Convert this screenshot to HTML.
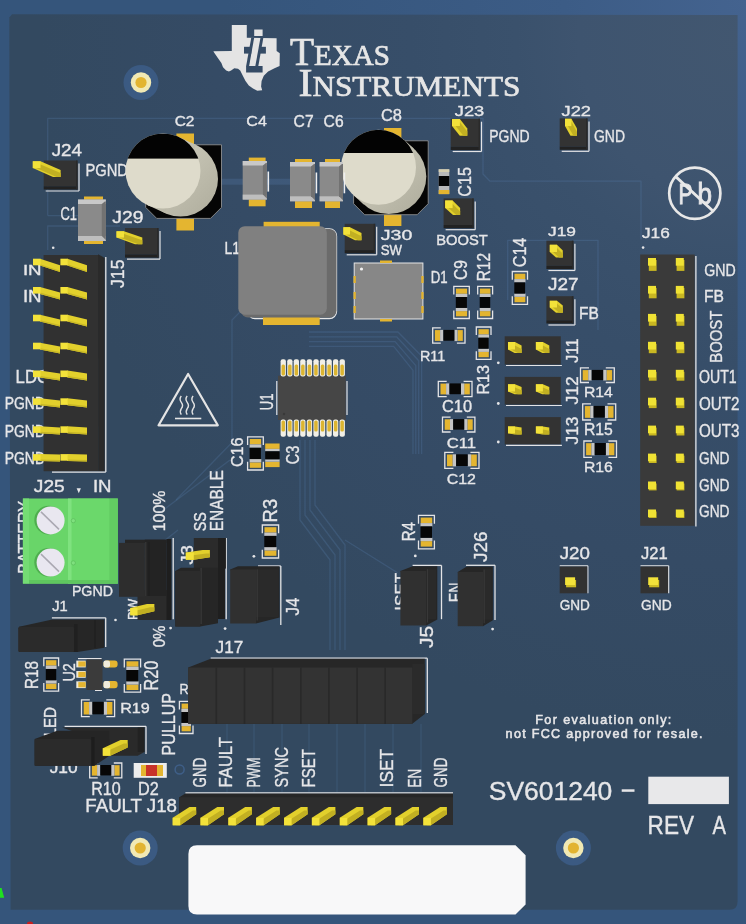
<!DOCTYPE html>
<html><head><meta charset="utf-8"><title>PCB</title>
<style>html,body{margin:0;padding:0;background:#35557b;width:746px;height:924px;overflow:hidden}svg{display:block}</style>
</head><body>
<svg width="746" height="924" viewBox="0 0 746 924">
<defs><radialGradient id="outer" gradientUnits="userSpaceOnUse" cx="746" cy="0" r="520"><stop offset="0" stop-color="#44638f"/><stop offset="0.35" stop-color="#3c5c86"/><stop offset="1" stop-color="#35557b"/></radialGradient><radialGradient id="brd" gradientUnits="userSpaceOnUse" cx="740" cy="40" r="700"><stop offset="0" stop-color="rgb(66,87,112)"/><stop offset="0.23" stop-color="rgb(62,84,111)"/><stop offset="0.32" stop-color="rgb(58,81,108)"/><stop offset="0.47" stop-color="rgb(55,78,105)"/><stop offset="0.75" stop-color="rgb(53,75,101)"/><stop offset="1" stop-color="rgb(51,73,96)"/></radialGradient><linearGradient id="capA" x1="0" y1="0" x2="1" y2="1"><stop offset="0" stop-color="#d4d2c2"/><stop offset="1" stop-color="#aeac9c"/></linearGradient><linearGradient id="capB" x1="0" y1="0" x2="1" y2="1"><stop offset="0" stop-color="#d4d2c2"/><stop offset="1" stop-color="#aeac9c"/></linearGradient></defs>
<rect x="0.0" y="0.0" width="746.0" height="924.0" fill="url(#outer)" />
<path d="M12,14.3 L737.6,15 L737.6,901.5 Q737.6,909.8 729.5,909.8 L10.6,909.8 L9.3,17.5 Z" fill="url(#brd)"/>
<polyline points="47.7,215.6 47.7,118.3 483.0,118.3 483.0,174.0 490.0,181.2 641.0,181.2 641.0,239.5" fill="none" stroke="rgba(110,160,225,0.16)" stroke-width="1.3" stroke-linejoin="round"/>
<polyline points="47.7,215.6 78.0,215.6" fill="none" stroke="rgba(110,160,225,0.16)" stroke-width="1.3" stroke-linejoin="round"/>
<polyline points="47.7,250.0 47.7,226.0 120.0,226.0" fill="none" stroke="rgba(110,160,225,0.16)" stroke-width="1.3" stroke-linejoin="round"/>
<polyline points="218.0,181.7 243.0,181.7" fill="none" stroke="rgba(110,160,225,0.16)" stroke-width="6" stroke-linejoin="round"/>
<polyline points="267.0,181.7 290.0,181.7" fill="none" stroke="rgba(110,160,225,0.16)" stroke-width="6" stroke-linejoin="round"/>
<polyline points="507.7,300.0 507.7,240.3 598.0,240.3 598.0,330.0" fill="none" stroke="rgba(110,160,225,0.16)" stroke-width="1.3" stroke-linejoin="round"/>
<polyline points="176.0,500.0 232.0,442.5 232.0,320.0 240.0,312.0 336.0,312.0" fill="none" stroke="rgba(110,160,225,0.16)" stroke-width="1.3" stroke-linejoin="round"/>
<polyline points="309.0,332.0 398.0,332.0 421.6,356.0 421.6,454.0" fill="none" stroke="rgba(110,160,225,0.16)" stroke-width="1.3" stroke-linejoin="round"/>
<polyline points="309.0,336.8 396.6,336.8 418.7,360.8 418.7,454.0" fill="none" stroke="rgba(110,160,225,0.16)" stroke-width="1.3" stroke-linejoin="round"/>
<polyline points="309.0,341.6 395.1,341.6 415.8,365.6 415.8,454.0" fill="none" stroke="rgba(110,160,225,0.16)" stroke-width="1.3" stroke-linejoin="round"/>
<polyline points="309.0,346.4 393.7,346.4 413.0,370.4 413.0,454.0" fill="none" stroke="rgba(110,160,225,0.16)" stroke-width="1.3" stroke-linejoin="round"/>
<polyline points="345.0,540.0 397.5,572.7" fill="none" stroke="rgba(110,160,225,0.16)" stroke-width="1.3" stroke-linejoin="round"/>
<polyline points="300.0,440.0 300.0,520.0 330.0,560.0 330.0,650.0" fill="none" stroke="rgba(110,160,225,0.16)" stroke-width="1.3" stroke-linejoin="round"/>
<polyline points="305.0,440.0 305.0,515.0 335.0,555.0 335.0,650.0" fill="none" stroke="rgba(110,160,225,0.16)" stroke-width="1.3" stroke-linejoin="round"/>
<polyline points="310.0,440.0 310.0,510.0 340.0,550.0 340.0,650.0" fill="none" stroke="rgba(110,160,225,0.16)" stroke-width="1.3" stroke-linejoin="round"/>
<polyline points="315.0,440.0 315.0,505.0 345.0,545.0 345.0,650.0" fill="none" stroke="rgba(110,160,225,0.16)" stroke-width="1.3" stroke-linejoin="round"/>
<polyline points="150.0,520.0 230.0,460.0" fill="none" stroke="rgba(110,160,225,0.16)" stroke-width="1.3" stroke-linejoin="round"/>
<polyline points="140.0,560.0 178.0,530.0" fill="none" stroke="rgba(110,160,225,0.16)" stroke-width="1.3" stroke-linejoin="round"/>
<polyline points="227.0,724.0 227.0,792.0" fill="none" stroke="rgba(110,160,225,0.16)" stroke-width="1.1" stroke-linejoin="round"/>
<polyline points="254.0,724.0 254.0,792.0" fill="none" stroke="rgba(110,160,225,0.16)" stroke-width="1.1" stroke-linejoin="round"/>
<polyline points="282.0,724.0 282.0,792.0" fill="none" stroke="rgba(110,160,225,0.16)" stroke-width="1.1" stroke-linejoin="round"/>
<polyline points="309.0,724.0 309.0,792.0" fill="none" stroke="rgba(110,160,225,0.16)" stroke-width="1.1" stroke-linejoin="round"/>
<polyline points="337.0,724.0 337.0,792.0" fill="none" stroke="rgba(110,160,225,0.16)" stroke-width="1.1" stroke-linejoin="round"/>
<polyline points="365.0,724.0 365.0,792.0" fill="none" stroke="rgba(110,160,225,0.16)" stroke-width="1.1" stroke-linejoin="round"/>
<polyline points="393.0,724.0 393.0,792.0" fill="none" stroke="rgba(110,160,225,0.16)" stroke-width="1.1" stroke-linejoin="round"/>
<polyline points="421.0,724.0 421.0,792.0" fill="none" stroke="rgba(110,160,225,0.16)" stroke-width="1.1" stroke-linejoin="round"/>
<circle cx="141.0" cy="82.5" r="17.5" fill="#3b5a82" />
<circle cx="141.0" cy="82.5" r="10.2" fill="#f1e9b4" />
<circle cx="141.0" cy="82.5" r="5.6" fill="#e2b431" />
<circle cx="140.2" cy="848.0" r="17.5" fill="#3b5a82" />
<circle cx="140.2" cy="848.0" r="10.2" fill="#f1e9b4" />
<circle cx="140.2" cy="848.0" r="5.6" fill="#e2b431" />
<circle cx="573.4" cy="848.0" r="17.5" fill="#3b5a82" />
<circle cx="573.4" cy="848.0" r="10.2" fill="#f1e9b4" />
<circle cx="573.4" cy="848.0" r="5.6" fill="#e2b431" />
<g style="will-change:transform">
<polygon points="231.8,25.1 246.8,25.1 246.8,37.7 276.6,38.2 276.6,51.1 279.8,53.2 279.6,66.1 274.5,68.3 268.1,71.5 263.8,75.8 261.6,81.1 261.1,86.5 262.2,90.2 257.3,90.8 253.0,88.6 248.8,85.4 245.5,81.1 242.3,74.7 240.2,70.4 238.0,68.8 234.3,68.3 231.1,70.4 228.9,71.5 226.2,70.4 223.0,67.2 221.4,62.9 218.2,58.6 213.9,52.2 213.4,51.3 231.8,51.1" fill="#e4e4e4"/>
<polygon points="251.3,37.6 254.2,37.6 249.1,66.2 246.1,66.2" fill="url(#brd)" />
<polygon points="260.5,37.6 263.4,37.6 258.3,66.2 255.3,66.2" fill="url(#brd)" />
<rect x="244.0" y="46.8" width="7.3" height="6.8" fill="url(#brd)" />
<rect x="259.6" y="46.8" width="6.3" height="6.8" fill="url(#brd)" />
<rect x="246.1" y="66.0" width="16.5" height="6.5" fill="url(#brd)" />
<rect x="254.2" y="29.5" width="8.4" height="6.5" fill="#e4e4e4" />
<text x="290" y="65.2" font-family="'Liberation Serif', serif" fill="#e6e6e6" stroke="#e6e6e6" stroke-width="0.7" font-size="40.5" textLength="100" lengthAdjust="spacingAndGlyphs">T<tspan font-size="30">EXAS</tspan></text>
<text x="298.4" y="96.4" font-family="'Liberation Serif', serif" fill="#e6e6e6" stroke="#e6e6e6" stroke-width="0.7" font-size="40.5" textLength="222" lengthAdjust="spacingAndGlyphs">I<tspan font-size="30">NSTRUMENTS</tspan></text>
<text x="51.7" y="155.8" font-size="15.70" font-family="'Liberation Sans', sans-serif" fill="#e6e6e8" font-weight="normal" textLength="30.3" lengthAdjust="spacingAndGlyphs" stroke="#e6e6e8" stroke-width="0.35">J24</text>
<text x="85.4" y="175.5" font-size="17.15" font-family="'Liberation Sans', sans-serif" fill="#e6e6e8" font-weight="normal" textLength="42.6" lengthAdjust="spacingAndGlyphs" stroke="#e6e6e8" stroke-width="0.35">PGND</text>
<text x="174.7" y="126.2" font-size="14.97" font-family="'Liberation Sans', sans-serif" fill="#e6e6e8" font-weight="normal" textLength="19.8" lengthAdjust="spacingAndGlyphs" stroke="#e6e6e8" stroke-width="0.35">C2</text>
<text x="246.3" y="126.2" font-size="14.97" font-family="'Liberation Sans', sans-serif" fill="#e6e6e8" font-weight="normal" textLength="20.6" lengthAdjust="spacingAndGlyphs" stroke="#e6e6e8" stroke-width="0.35">C4</text>
<text x="293.6" y="126.8" font-size="15.70" font-family="'Liberation Sans', sans-serif" fill="#e6e6e8" font-weight="normal" textLength="20.0" lengthAdjust="spacingAndGlyphs" stroke="#e6e6e8" stroke-width="0.35">C7</text>
<text x="323.6" y="126.8" font-size="15.70" font-family="'Liberation Sans', sans-serif" fill="#e6e6e8" font-weight="normal" textLength="20.0" lengthAdjust="spacingAndGlyphs" stroke="#e6e6e8" stroke-width="0.35">C6</text>
<text x="381.0" y="121.0" font-size="15.99" font-family="'Liberation Sans', sans-serif" fill="#e6e6e8" font-weight="normal" textLength="21.0" lengthAdjust="spacingAndGlyphs" stroke="#e6e6e8" stroke-width="0.35">C8</text>
<text x="60.5" y="219.5" font-size="17.44" font-family="'Liberation Sans', sans-serif" fill="#e6e6e8" font-weight="normal" textLength="16.5" lengthAdjust="spacingAndGlyphs" stroke="#e6e6e8" stroke-width="0.35">C1</text>
<text x="112.3" y="223.4" font-size="17.15" font-family="'Liberation Sans', sans-serif" fill="#e6e6e8" font-weight="normal" textLength="31.1" lengthAdjust="spacingAndGlyphs" stroke="#e6e6e8" stroke-width="0.35">J29</text>
<text x="224.4" y="254.0" font-size="16.86" font-family="'Liberation Sans', sans-serif" fill="#e6e6e8" font-weight="normal" textLength="15.6" lengthAdjust="spacingAndGlyphs" stroke="#e6e6e8" stroke-width="0.35">L1</text>
<text x="380.7" y="239.5" font-size="14.97" font-family="'Liberation Sans', sans-serif" fill="#e6e6e8" font-weight="normal" textLength="31.6" lengthAdjust="spacingAndGlyphs" stroke="#e6e6e8" stroke-width="0.35">J30</text>
<text x="380.7" y="254.8" font-size="14.53" font-family="'Liberation Sans', sans-serif" fill="#e6e6e8" font-weight="normal" textLength="21.3" lengthAdjust="spacingAndGlyphs" stroke="#e6e6e8" stroke-width="0.35">SW</text>
<text x="454.8" y="115.6" font-size="14.97" font-family="'Liberation Sans', sans-serif" fill="#e6e6e8" font-weight="normal" textLength="29.5" lengthAdjust="spacingAndGlyphs" stroke="#e6e6e8" stroke-width="0.35">J23</text>
<text x="489.3" y="141.6" font-size="17.15" font-family="'Liberation Sans', sans-serif" fill="#e6e6e8" font-weight="normal" textLength="40.4" lengthAdjust="spacingAndGlyphs" stroke="#e6e6e8" stroke-width="0.35">PGND</text>
<text x="561.5" y="115.6" font-size="14.97" font-family="'Liberation Sans', sans-serif" fill="#e6e6e8" font-weight="normal" textLength="29.5" lengthAdjust="spacingAndGlyphs" stroke="#e6e6e8" stroke-width="0.35">J22</text>
<text x="594.0" y="141.6" font-size="17.15" font-family="'Liberation Sans', sans-serif" fill="#e6e6e8" font-weight="normal" textLength="31.0" lengthAdjust="spacingAndGlyphs" stroke="#e6e6e8" stroke-width="0.35">GND</text>
<text transform="translate(470.7,196.7) rotate(-90)" x="0" y="0" font-size="18.02" font-family="'Liberation Sans', sans-serif" fill="#e6e6e8" font-weight="normal" textLength="29.7" lengthAdjust="spacingAndGlyphs" stroke="#e6e6e8" stroke-width="0.35">C15</text>
<text x="436.2" y="245.4" font-size="15.12" font-family="'Liberation Sans', sans-serif" fill="#e6e6e8" font-weight="normal" textLength="51.6" lengthAdjust="spacingAndGlyphs" stroke="#e6e6e8" stroke-width="0.35">BOOST</text>
<text x="548.0" y="235.7" font-size="13.52" font-family="'Liberation Sans', sans-serif" fill="#e6e6e8" font-weight="normal" textLength="28.0" lengthAdjust="spacingAndGlyphs" stroke="#e6e6e8" stroke-width="0.35">J19</text>
<text x="548.0" y="290.0" font-size="17.15" font-family="'Liberation Sans', sans-serif" fill="#e6e6e8" font-weight="normal" textLength="30.6" lengthAdjust="spacingAndGlyphs" stroke="#e6e6e8" stroke-width="0.35">J27</text>
<text x="579.0" y="319.3" font-size="16.42" font-family="'Liberation Sans', sans-serif" fill="#e6e6e8" font-weight="normal" textLength="19.8" lengthAdjust="spacingAndGlyphs" stroke="#e6e6e8" stroke-width="0.35">FB</text>
<text transform="translate(466.5,280.0) rotate(-90)" x="0" y="0" font-size="17.73" font-family="'Liberation Sans', sans-serif" fill="#e6e6e8" font-weight="normal" textLength="19.8" lengthAdjust="spacingAndGlyphs" stroke="#e6e6e8" stroke-width="0.35">C9</text>
<text transform="translate(489.8,281.3) rotate(-90)" x="0" y="0" font-size="17.59" font-family="'Liberation Sans', sans-serif" fill="#e6e6e8" font-weight="normal" textLength="28.3" lengthAdjust="spacingAndGlyphs" stroke="#e6e6e8" stroke-width="0.35">R12</text>
<text x="430.7" y="282.7" font-size="16.28" font-family="'Liberation Sans', sans-serif" fill="#e6e6e8" font-weight="normal" textLength="16.9" lengthAdjust="spacingAndGlyphs" stroke="#e6e6e8" stroke-width="0.35">D1</text>
<text transform="translate(526.4,267.2) rotate(-90)" x="0" y="0" font-size="17.59" font-family="'Liberation Sans', sans-serif" fill="#e6e6e8" font-weight="normal" textLength="29.5" lengthAdjust="spacingAndGlyphs" stroke="#e6e6e8" stroke-width="0.35">C14</text>
<text x="420.0" y="360.8" font-size="15.12" font-family="'Liberation Sans', sans-serif" fill="#e6e6e8" font-weight="normal" textLength="25.3" lengthAdjust="spacingAndGlyphs" stroke="#e6e6e8" stroke-width="0.35">R11</text>
<text transform="translate(489.0,394.6) rotate(-90)" x="0" y="0" font-size="16.42" font-family="'Liberation Sans', sans-serif" fill="#e6e6e8" font-weight="normal" textLength="29.6" lengthAdjust="spacingAndGlyphs" stroke="#e6e6e8" stroke-width="0.35">R13</text>
<text transform="translate(578.2,362.8) rotate(-90)" x="0" y="0" font-size="17.15" font-family="'Liberation Sans', sans-serif" fill="#e6e6e8" font-weight="normal" textLength="24.5" lengthAdjust="spacingAndGlyphs" stroke="#e6e6e8" stroke-width="0.35">J11</text>
<text transform="translate(578.2,404.5) rotate(-90)" x="0" y="0" font-size="17.15" font-family="'Liberation Sans', sans-serif" fill="#e6e6e8" font-weight="normal" textLength="28.2" lengthAdjust="spacingAndGlyphs" stroke="#e6e6e8" stroke-width="0.35">J12</text>
<text transform="translate(578.2,444.5) rotate(-90)" x="0" y="0" font-size="17.15" font-family="'Liberation Sans', sans-serif" fill="#e6e6e8" font-weight="normal" textLength="28.0" lengthAdjust="spacingAndGlyphs" stroke="#e6e6e8" stroke-width="0.35">J13</text>
<text x="442.0" y="412.3" font-size="16.42" font-family="'Liberation Sans', sans-serif" fill="#e6e6e8" font-weight="normal" textLength="30.0" lengthAdjust="spacingAndGlyphs" stroke="#e6e6e8" stroke-width="0.35">C10</text>
<text x="446.7" y="448.1" font-size="15.12" font-family="'Liberation Sans', sans-serif" fill="#e6e6e8" font-weight="normal" textLength="29.3" lengthAdjust="spacingAndGlyphs" stroke="#e6e6e8" stroke-width="0.35">C11</text>
<text x="446.7" y="484.0" font-size="15.26" font-family="'Liberation Sans', sans-serif" fill="#e6e6e8" font-weight="normal" textLength="29.3" lengthAdjust="spacingAndGlyphs" stroke="#e6e6e8" stroke-width="0.35">C12</text>
<text x="583.9" y="396.6" font-size="15.12" font-family="'Liberation Sans', sans-serif" fill="#e6e6e8" font-weight="normal" textLength="28.9" lengthAdjust="spacingAndGlyphs" stroke="#e6e6e8" stroke-width="0.35">R14</text>
<text x="583.9" y="435.4" font-size="16.28" font-family="'Liberation Sans', sans-serif" fill="#e6e6e8" font-weight="normal" textLength="28.9" lengthAdjust="spacingAndGlyphs" stroke="#e6e6e8" stroke-width="0.35">R15</text>
<text x="583.9" y="471.5" font-size="15.55" font-family="'Liberation Sans', sans-serif" fill="#e6e6e8" font-weight="normal" textLength="28.9" lengthAdjust="spacingAndGlyphs" stroke="#e6e6e8" stroke-width="0.35">R16</text>
<text x="642.0" y="238.2" font-size="15.26" font-family="'Liberation Sans', sans-serif" fill="#e6e6e8" font-weight="normal" textLength="27.8" lengthAdjust="spacingAndGlyphs" stroke="#e6e6e8" stroke-width="0.35">J16</text>
<circle cx="643.1" cy="247.6" r="1.3" fill="#e4e4e6" />
<text x="704.2" y="275.8" font-size="16.42" font-family="'Liberation Sans', sans-serif" fill="#e6e6e8" font-weight="normal" textLength="31.5" lengthAdjust="spacingAndGlyphs" stroke="#e6e6e8" stroke-width="0.35">GND</text>
<text x="704.0" y="302.2" font-size="16.57" font-family="'Liberation Sans', sans-serif" fill="#e6e6e8" font-weight="normal" textLength="20.0" lengthAdjust="spacingAndGlyphs" stroke="#e6e6e8" stroke-width="0.35">FB</text>
<text transform="translate(721.5,362.7) rotate(-90)" x="0" y="0" font-size="16.28" font-family="'Liberation Sans', sans-serif" fill="#e6e6e8" font-weight="normal" textLength="52.1" lengthAdjust="spacingAndGlyphs" stroke="#e6e6e8" stroke-width="0.35">BOOST</text>
<text x="699.0" y="383.3" font-size="17.59" font-family="'Liberation Sans', sans-serif" fill="#e6e6e8" font-weight="normal" textLength="37.7" lengthAdjust="spacingAndGlyphs" stroke="#e6e6e8" stroke-width="0.35">OUT1</text>
<text x="699.0" y="410.0" font-size="17.59" font-family="'Liberation Sans', sans-serif" fill="#e6e6e8" font-weight="normal" textLength="40.5" lengthAdjust="spacingAndGlyphs" stroke="#e6e6e8" stroke-width="0.35">OUT2</text>
<text x="699.0" y="437.3" font-size="17.88" font-family="'Liberation Sans', sans-serif" fill="#e6e6e8" font-weight="normal" textLength="40.5" lengthAdjust="spacingAndGlyphs" stroke="#e6e6e8" stroke-width="0.35">OUT3</text>
<text x="699.0" y="463.6" font-size="16.28" font-family="'Liberation Sans', sans-serif" fill="#e6e6e8" font-weight="normal" textLength="30.5" lengthAdjust="spacingAndGlyphs" stroke="#e6e6e8" stroke-width="0.35">GND</text>
<text x="699.0" y="491.0" font-size="16.86" font-family="'Liberation Sans', sans-serif" fill="#e6e6e8" font-weight="normal" textLength="30.5" lengthAdjust="spacingAndGlyphs" stroke="#e6e6e8" stroke-width="0.35">GND</text>
<text x="699.0" y="517.3" font-size="16.42" font-family="'Liberation Sans', sans-serif" fill="#e6e6e8" font-weight="normal" textLength="30.5" lengthAdjust="spacingAndGlyphs" stroke="#e6e6e8" stroke-width="0.35">GND</text>
<text x="22.9" y="275.0" font-size="14.97" font-family="'Liberation Sans', sans-serif" fill="#e6e6e8" font-weight="normal" textLength="18.7" lengthAdjust="spacingAndGlyphs" stroke="#e6e6e8" stroke-width="0.35">IN</text>
<text x="22.9" y="301.8" font-size="16.28" font-family="'Liberation Sans', sans-serif" fill="#e6e6e8" font-weight="normal" textLength="18.7" lengthAdjust="spacingAndGlyphs" stroke="#e6e6e8" stroke-width="0.35">IN</text>
<text x="15.6" y="383.4" font-size="17.73" font-family="'Liberation Sans', sans-serif" fill="#e6e6e8" font-weight="normal" textLength="34.4" lengthAdjust="spacingAndGlyphs" stroke="#e6e6e8" stroke-width="0.35">LDO</text>
<text x="4.7" y="409.4" font-size="15.99" font-family="'Liberation Sans', sans-serif" fill="#e6e6e8" font-weight="normal" textLength="40.3" lengthAdjust="spacingAndGlyphs" stroke="#e6e6e8" stroke-width="0.35">PGND</text>
<text x="4.7" y="436.9" font-size="16.28" font-family="'Liberation Sans', sans-serif" fill="#e6e6e8" font-weight="normal" textLength="40.3" lengthAdjust="spacingAndGlyphs" stroke="#e6e6e8" stroke-width="0.35">PGND</text>
<text x="4.7" y="463.9" font-size="15.84" font-family="'Liberation Sans', sans-serif" fill="#e6e6e8" font-weight="normal" textLength="40.3" lengthAdjust="spacingAndGlyphs" stroke="#e6e6e8" stroke-width="0.35">PGND</text>
<text transform="translate(124.2,288.0) rotate(-90)" x="0" y="0" font-size="18.17" font-family="'Liberation Sans', sans-serif" fill="#e6e6e8" font-weight="normal" textLength="28.5" lengthAdjust="spacingAndGlyphs" stroke="#e6e6e8" stroke-width="0.35">J15</text>
<circle cx="53.2" cy="247.8" r="1.3" fill="#e4e4e6" />
<text x="33.8" y="491.7" font-size="15.70" font-family="'Liberation Sans', sans-serif" fill="#e6e6e8" font-weight="normal" textLength="30.9" lengthAdjust="spacingAndGlyphs" stroke="#e6e6e8" stroke-width="0.35">J25</text>
<polygon points="76.6,488.3 80.9,488.3 78.8,493.2" fill="#e6e6e8" />
<text x="92.9" y="491.7" font-size="15.70" font-family="'Liberation Sans', sans-serif" fill="#e6e6e8" font-weight="normal" textLength="18.6" lengthAdjust="spacingAndGlyphs" stroke="#e6e6e8" stroke-width="0.35">IN</text>
<text transform="translate(30.5,573.8) rotate(-90)" x="0" y="0" font-size="18.17" font-family="'Liberation Sans', sans-serif" fill="#e6e6e8" font-weight="normal" textLength="72.8" lengthAdjust="spacingAndGlyphs" stroke="#e6e6e8" stroke-width="0.35">BATTERY</text>
<text x="71.9" y="596.0" font-size="15.55" font-family="'Liberation Sans', sans-serif" fill="#e6e6e8" font-weight="normal" textLength="41.0" lengthAdjust="spacingAndGlyphs" stroke="#e6e6e8" stroke-width="0.35">PGND</text>
<text x="52.2" y="611.2" font-size="14.39" font-family="'Liberation Sans', sans-serif" fill="#e6e6e8" font-weight="normal" textLength="15.5" lengthAdjust="spacingAndGlyphs" stroke="#e6e6e8" stroke-width="0.35">J1</text>
<text transform="translate(164.8,531.3) rotate(-90)" x="0" y="0" font-size="16.72" font-family="'Liberation Sans', sans-serif" fill="#e6e6e8" font-weight="normal" textLength="40.7" lengthAdjust="spacingAndGlyphs" stroke="#e6e6e8" stroke-width="0.35">100%</text>
<text transform="translate(164.8,647.2) rotate(-90)" x="0" y="0" font-size="16.72" font-family="'Liberation Sans', sans-serif" fill="#e6e6e8" font-weight="normal" textLength="21.6" lengthAdjust="spacingAndGlyphs" stroke="#e6e6e8" stroke-width="0.35">0%</text>
<text transform="translate(138.0,620.0) rotate(-90)" x="0" y="0" font-size="15.55" font-family="'Liberation Sans', sans-serif" fill="#e6e6e8" font-weight="normal" textLength="21.2" lengthAdjust="spacingAndGlyphs" stroke="#e6e6e8" stroke-width="0.35">PW</text>
<text transform="translate(192.8,564.4) rotate(-90)" x="0" y="0" font-size="15.70" font-family="'Liberation Sans', sans-serif" fill="#e6e6e8" font-weight="normal" textLength="19.1" lengthAdjust="spacingAndGlyphs" stroke="#e6e6e8" stroke-width="0.35">J3</text>
<text transform="translate(205.5,531.3) rotate(-90)" x="0" y="0" font-size="16.72" font-family="'Liberation Sans', sans-serif" fill="#e6e6e8" font-weight="normal" textLength="19.1" lengthAdjust="spacingAndGlyphs" stroke="#e6e6e8" stroke-width="0.35">SS</text>
<text transform="translate(223.3,531.3) rotate(-90)" x="0" y="0" font-size="18.46" font-family="'Liberation Sans', sans-serif" fill="#e6e6e8" font-weight="normal" textLength="61.1" lengthAdjust="spacingAndGlyphs" stroke="#e6e6e8" stroke-width="0.35">ENABLE</text>
<circle cx="170.6" cy="628.1" r="1.4" fill="#e4e4e6" />
<circle cx="225.1" cy="628.6" r="1.4" fill="#e4e4e6" />
<circle cx="115.5" cy="620.0" r="1.3" fill="#e4e4e6" />
<text transform="translate(298.5,615.4) rotate(-90)" x="0" y="0" font-size="18.46" font-family="'Liberation Sans', sans-serif" fill="#e6e6e8" font-weight="normal" textLength="17.9" lengthAdjust="spacingAndGlyphs" stroke="#e6e6e8" stroke-width="0.35">J4</text>
<text transform="translate(276.8,522.4) rotate(-90)" x="0" y="0" font-size="20.35" font-family="'Liberation Sans', sans-serif" fill="#e6e6e8" font-weight="normal" textLength="23.6" lengthAdjust="spacingAndGlyphs" stroke="#e6e6e8" stroke-width="0.35">R3</text>
<circle cx="253.9" cy="556.3" r="1.4" fill="#e4e4e6" />
<text transform="translate(273.3,410.2) rotate(-90)" x="0" y="0" font-size="17.88" font-family="'Liberation Sans', sans-serif" fill="#e6e6e8" font-weight="normal" textLength="16.8" lengthAdjust="spacingAndGlyphs" stroke="#e6e6e8" stroke-width="0.35">U1</text>
<text transform="translate(242.6,467.1) rotate(-90)" x="0" y="0" font-size="17.15" font-family="'Liberation Sans', sans-serif" fill="#e6e6e8" font-weight="normal" textLength="29.5" lengthAdjust="spacingAndGlyphs" stroke="#e6e6e8" stroke-width="0.35">C16</text>
<text transform="translate(299.2,464.2) rotate(-90)" x="0" y="0" font-size="17.88" font-family="'Liberation Sans', sans-serif" fill="#e6e6e8" font-weight="normal" textLength="18.6" lengthAdjust="spacingAndGlyphs" stroke="#e6e6e8" stroke-width="0.35">C3</text>
<text transform="translate(414.7,541.3) rotate(-90)" x="0" y="0" font-size="18.31" font-family="'Liberation Sans', sans-serif" fill="#e6e6e8" font-weight="normal" textLength="19.2" lengthAdjust="spacingAndGlyphs" stroke="#e6e6e8" stroke-width="0.35">R4</text>
<circle cx="415.3" cy="555.9" r="1.4" fill="#e4e4e6" />
<text transform="translate(407.0,610.7) rotate(-90)" x="0" y="0" font-size="16.86" font-family="'Liberation Sans', sans-serif" fill="#e6e6e8" font-weight="normal" textLength="37.7" lengthAdjust="spacingAndGlyphs" stroke="#e6e6e8" stroke-width="0.35">ISET</text>
<text transform="translate(433.0,648.0) rotate(-90)" x="0" y="0" font-size="18.46" font-family="'Liberation Sans', sans-serif" fill="#e6e6e8" font-weight="normal" textLength="22.3" lengthAdjust="spacingAndGlyphs" stroke="#e6e6e8" stroke-width="0.35">J5</text>
<text transform="translate(487.0,562.0) rotate(-90)" x="0" y="0" font-size="19.19" font-family="'Liberation Sans', sans-serif" fill="#e6e6e8" font-weight="normal" textLength="30.5" lengthAdjust="spacingAndGlyphs" stroke="#e6e6e8" stroke-width="0.35">J26</text>
<text transform="translate(462.0,602.3) rotate(-90)" x="0" y="0" font-size="17.73" font-family="'Liberation Sans', sans-serif" fill="#e6e6e8" font-weight="normal" textLength="19.7" lengthAdjust="spacingAndGlyphs" stroke="#e6e6e8" stroke-width="0.35">EN</text>
<circle cx="492.6" cy="629.1" r="1.4" fill="#e4e4e6" />
<circle cx="498.3" cy="362.8" r="1.4" fill="#e4e4e6" />
<circle cx="498.3" cy="403.5" r="1.4" fill="#e4e4e6" />
<circle cx="498.3" cy="442.0" r="1.4" fill="#e4e4e6" />
<text x="559.7" y="559.2" font-size="16.72" font-family="'Liberation Sans', sans-serif" fill="#e6e6e8" font-weight="normal" textLength="30.2" lengthAdjust="spacingAndGlyphs" stroke="#e6e6e8" stroke-width="0.35">J20</text>
<text x="559.7" y="610.0" font-size="15.41" font-family="'Liberation Sans', sans-serif" fill="#e6e6e8" font-weight="normal" textLength="30.2" lengthAdjust="spacingAndGlyphs" stroke="#e6e6e8" stroke-width="0.35">GND</text>
<text x="641.0" y="559.2" font-size="16.72" font-family="'Liberation Sans', sans-serif" fill="#e6e6e8" font-weight="normal" textLength="26.7" lengthAdjust="spacingAndGlyphs" stroke="#e6e6e8" stroke-width="0.35">J21</text>
<text x="641.0" y="610.0" font-size="15.41" font-family="'Liberation Sans', sans-serif" fill="#e6e6e8" font-weight="normal" textLength="30.7" lengthAdjust="spacingAndGlyphs" stroke="#e6e6e8" stroke-width="0.35">GND</text>
<text transform="translate(38.2,689.1) rotate(-90)" x="0" y="0" font-size="18.46" font-family="'Liberation Sans', sans-serif" fill="#e6e6e8" font-weight="normal" textLength="28.0" lengthAdjust="spacingAndGlyphs" stroke="#e6e6e8" stroke-width="0.35">R18</text>
<text transform="translate(75.1,681.5) rotate(-90)" x="0" y="0" font-size="17.30" font-family="'Liberation Sans', sans-serif" fill="#e6e6e8" font-weight="normal" textLength="18.3" lengthAdjust="spacingAndGlyphs" stroke="#e6e6e8" stroke-width="0.35">U2</text>
<text transform="translate(157.9,690.4) rotate(-90)" x="0" y="0" font-size="20.35" font-family="'Liberation Sans', sans-serif" fill="#e6e6e8" font-weight="normal" textLength="29.8" lengthAdjust="spacingAndGlyphs" stroke="#e6e6e8" stroke-width="0.35">R20</text>
<text x="120.2" y="713.3" font-size="14.68" font-family="'Liberation Sans', sans-serif" fill="#e6e6e8" font-weight="normal" textLength="29.6" lengthAdjust="spacingAndGlyphs" stroke="#e6e6e8" stroke-width="0.35">R19</text>
<text transform="translate(55.5,736.5) rotate(-90)" x="0" y="0" font-size="15.84" font-family="'Liberation Sans', sans-serif" fill="#e6e6e8" font-weight="normal" textLength="29.5" lengthAdjust="spacingAndGlyphs" stroke="#e6e6e8" stroke-width="0.35">LED</text>
<text transform="translate(174.5,755.4) rotate(-90)" x="0" y="0" font-size="18.60" font-family="'Liberation Sans', sans-serif" fill="#e6e6e8" font-weight="normal" textLength="62.4" lengthAdjust="spacingAndGlyphs" stroke="#e6e6e8" stroke-width="0.35">PULLUP</text>
<text x="179.4" y="693.6" font-size="15.26" font-family="'Liberation Sans', sans-serif" fill="#e6e6e8" font-weight="normal" textLength="9.1" lengthAdjust="spacingAndGlyphs" stroke="#e6e6e8" stroke-width="0.35">R</text>
<text x="49.7" y="772.5" font-size="15.99" font-family="'Liberation Sans', sans-serif" fill="#e6e6e8" font-weight="normal" textLength="28.0" lengthAdjust="spacingAndGlyphs" stroke="#e6e6e8" stroke-width="0.35">J10</text>
<text x="91.2" y="795.0" font-size="17.59" font-family="'Liberation Sans', sans-serif" fill="#e6e6e8" font-weight="normal" textLength="29.4" lengthAdjust="spacingAndGlyphs" stroke="#e6e6e8" stroke-width="0.35">R10</text>
<text x="138.0" y="795.0" font-size="17.59" font-family="'Liberation Sans', sans-serif" fill="#e6e6e8" font-weight="normal" textLength="20.7" lengthAdjust="spacingAndGlyphs" stroke="#e6e6e8" stroke-width="0.35">D2</text>
<text x="85.3" y="812.4" font-size="17.59" font-family="'Liberation Sans', sans-serif" fill="#e6e6e8" font-weight="normal" textLength="91.7" lengthAdjust="spacingAndGlyphs" stroke="#e6e6e8" stroke-width="0.35">FAULT J18</text>
<text x="215.6" y="652.5" font-size="16.28" font-family="'Liberation Sans', sans-serif" fill="#e6e6e8" font-weight="normal" textLength="27.7" lengthAdjust="spacingAndGlyphs" stroke="#e6e6e8" stroke-width="0.35">J17</text>
<text transform="translate(205.8,787.4) rotate(-90)" x="0" y="0" font-size="18.17" font-family="'Liberation Sans', sans-serif" fill="#e6e6e8" font-weight="normal" textLength="29.9" lengthAdjust="spacingAndGlyphs" stroke="#e6e6e8" stroke-width="0.35">GND</text>
<text transform="translate(232.3,787.4) rotate(-90)" x="0" y="0" font-size="18.17" font-family="'Liberation Sans', sans-serif" fill="#e6e6e8" font-weight="normal" textLength="50.4" lengthAdjust="spacingAndGlyphs" stroke="#e6e6e8" stroke-width="0.35">FAULT</text>
<text transform="translate(259.5,787.4) rotate(-90)" x="0" y="0" font-size="18.17" font-family="'Liberation Sans', sans-serif" fill="#e6e6e8" font-weight="normal" textLength="29.8" lengthAdjust="spacingAndGlyphs" stroke="#e6e6e8" stroke-width="0.35">PWM</text>
<text transform="translate(287.5,787.4) rotate(-90)" x="0" y="0" font-size="18.17" font-family="'Liberation Sans', sans-serif" fill="#e6e6e8" font-weight="normal" textLength="40.4" lengthAdjust="spacingAndGlyphs" stroke="#e6e6e8" stroke-width="0.35">SYNC</text>
<text transform="translate(314.7,787.4) rotate(-90)" x="0" y="0" font-size="18.17" font-family="'Liberation Sans', sans-serif" fill="#e6e6e8" font-weight="normal" textLength="38.4" lengthAdjust="spacingAndGlyphs" stroke="#e6e6e8" stroke-width="0.35">FSET</text>
<text transform="translate(392.5,787.4) rotate(-90)" x="0" y="0" font-size="18.17" font-family="'Liberation Sans', sans-serif" fill="#e6e6e8" font-weight="normal" textLength="38.4" lengthAdjust="spacingAndGlyphs" stroke="#e6e6e8" stroke-width="0.35">ISET</text>
<text transform="translate(420.5,787.4) rotate(-90)" x="0" y="0" font-size="18.17" font-family="'Liberation Sans', sans-serif" fill="#e6e6e8" font-weight="normal" textLength="18.5" lengthAdjust="spacingAndGlyphs" stroke="#e6e6e8" stroke-width="0.35">EN</text>
<text transform="translate(446.9,787.4) rotate(-90)" x="0" y="0" font-size="18.17" font-family="'Liberation Sans', sans-serif" fill="#e6e6e8" font-weight="normal" textLength="29.9" lengthAdjust="spacingAndGlyphs" stroke="#e6e6e8" stroke-width="0.35">GND</text>
<text x="535.3" y="724.3" font-size="12.6" font-family="'Liberation Sans', sans-serif" fill="#e6e6e8" stroke="#e6e6e8" stroke-width="0.55" textLength="136" lengthAdjust="spacing">For evaluation only:</text>
<text x="505.6" y="738.4" font-size="12.6" font-family="'Liberation Sans', sans-serif" fill="#e6e6e8" stroke="#e6e6e8" stroke-width="0.55" textLength="197" lengthAdjust="spacing">not FCC approved for resale.</text>
<text x="488.8" y="800.3" font-size="25.87" font-family="'Liberation Sans', sans-serif" fill="#e6e6e8" font-weight="normal" textLength="123.5" lengthAdjust="spacingAndGlyphs" stroke="#e6e6e8" stroke-width="0.35">SV601240</text>
<rect x="621.7" y="789.3" width="12.8" height="2.5" fill="#e6e6e8" />
<rect x="648.3" y="776.7" width="80.6" height="27.4" fill="#e8e8ea" />
<text x="647.6" y="833.7" font-size="25.87" font-family="'Liberation Sans', sans-serif" fill="#e6e6e8" font-weight="normal" textLength="46.4" lengthAdjust="spacingAndGlyphs" stroke="#e6e6e8" stroke-width="0.35">REV</text>
<text x="712.5" y="833.7" font-size="25.87" font-family="'Liberation Sans', sans-serif" fill="#e6e6e8" font-weight="normal" textLength="13.5" lengthAdjust="spacingAndGlyphs" stroke="#e6e6e8" stroke-width="0.35">A</text>
<circle cx="694.8" cy="193.3" r="25.6" fill="none" stroke="#e8e8e8" stroke-width="2.7"/>
<text x="678.6" y="204" font-size="28.6" font-family="'Liberation Sans', sans-serif" fill="#e6e6e8" stroke="#e6e6e8" stroke-width="0.9" textLength="14" lengthAdjust="spacingAndGlyphs">P</text>
<text x="697.6" y="204" font-size="28.6" font-family="'Liberation Sans', sans-serif" fill="#e6e6e8" stroke="#e6e6e8" stroke-width="0.9" textLength="14.5" lengthAdjust="spacingAndGlyphs">b</text>
<line x1="676.0" y1="176.9" x2="712.7" y2="210.7" stroke="#e8e8e8" stroke-width="2.8" />
<polygon points="188.1,374.0 158.6,425.3 217.8,425.3" fill="none" stroke="#e4e4e4" stroke-width="2.2" stroke-linejoin="round"/>
<path d="M181.3,396 q-2.5,3 0,6.3 q2.5,3.2 0,6.3 q-2,3 0,6" fill="none" stroke="#e4e4e4" stroke-width="1.4"/>
<path d="M187.2,396 q-2.5,3 0,6.3 q2.5,3.2 0,6.3 q-2,3 0,6" fill="none" stroke="#e4e4e4" stroke-width="1.4"/>
<path d="M193.1,396 q-2.5,3 0,6.3 q2.5,3.2 0,6.3 q-2,3 0,6" fill="none" stroke="#e4e4e4" stroke-width="1.4"/>
<line x1="175.0" y1="418.5" x2="201.3" y2="418.5" stroke="#e4e4e4" stroke-width="1.6" />
<path d="M197,845.3 L515.5,845.3 L525.6,855.3 L525.6,904.6 L515.5,914.6 L197,914.6 Q188.4,914.6 188.4,906 L188.4,854 Q188.4,845.3 197,845.3 Z" fill="#f8f8f9"/>
</g>
<rect x="176.4" y="133.5" width="17.6" height="12.5" fill="#e4b530" />
<rect x="176.4" y="217.0" width="17.6" height="13.5" fill="#e4b530" />
<polygon points="145.7,144.8 221.5,144.8 221.5,207.4 210.5,218.4 156.7,218.4 145.7,207.4" fill="#050505" stroke="#9a9a9a" stroke-width="0.8"/>
<g fill="url(#capA)"><circle cx="180.5" cy="179.0" r="37.5"/><polygon points="147.4,205.1 164.9,213.1 196.1,144.9 178.6,136.9"/></g>
<clipPath id="cpcapA"><circle cx="163.0" cy="171.0" r="37.5"/></clipPath>
<circle cx="163.0" cy="171.0" r="37.5" fill="#dedbcb" />
<rect x="125.5" y="133.5" width="75.0" height="25.1" fill="#030303" clip-path="url(#cpcapA)"/>
<rect x="384.0" y="128.0" width="17.4" height="14.0" fill="#e4b530" />
<rect x="384.0" y="213.0" width="17.4" height="13.0" fill="#e4b530" />
<polygon points="353.6,140.8 428.2,140.8 428.2,203.7 417.2,214.7 364.6,214.7 353.6,203.7" fill="#050505" stroke="#9a9a9a" stroke-width="0.8"/>
<g fill="url(#capB)"><circle cx="388.8" cy="176.5" r="37.5"/><polygon points="353.5,195.3 363.8,204.5 413.8,148.5 403.5,139.3"/></g>
<clipPath id="cpcapB"><circle cx="378.5" cy="167.3" r="37.5"/></clipPath>
<circle cx="378.5" cy="167.3" r="37.5" fill="#dedbcb" />
<rect x="341.0" y="129.8" width="75.0" height="23.2" fill="#030303" clip-path="url(#cpcapB)"/>
<rect x="248.8" y="157.6" width="16.8" height="6.4" fill="#e4b530" />
<rect x="248.8" y="196.6" width="16.8" height="9.7" fill="#e4b530" />
<rect x="267.5" y="171.5" width="1.6" height="20.1" fill="#eeeeee" />
<rect x="242.7" y="161.0" width="24.2" height="38.6" fill="#8a8a8a" />
<rect x="242.7" y="161.0" width="24.2" height="4.5" fill="#c8c8c8" />
<rect x="242.7" y="194.6" width="24.2" height="5.0" fill="#bebebe" />
<polygon points="262.9,165.5 265.9,163.0 266.9,163.0 266.9,198.6 262.9,194.6" fill="#727272" />
<rect x="295.0" y="159.0" width="17.0" height="6.0" fill="#e4b530" />
<rect x="295.0" y="198.3" width="17.0" height="9.7" fill="#e4b530" />
<rect x="315.6" y="172.5" width="1.6" height="20.8" fill="#eeeeee" />
<rect x="290.0" y="162.0" width="25.0" height="39.3" fill="#8a8a8a" />
<rect x="290.0" y="162.0" width="25.0" height="4.5" fill="#c8c8c8" />
<rect x="290.0" y="196.3" width="25.0" height="5.0" fill="#bebebe" />
<polygon points="311.0,166.5 314.0,164.0 315.0,164.0 315.0,200.3 311.0,196.3" fill="#727272" />
<rect x="325.0" y="159.0" width="15.0" height="6.0" fill="#e4b530" />
<rect x="325.0" y="198.3" width="15.0" height="9.7" fill="#e4b530" />
<rect x="343.6" y="172.5" width="1.6" height="20.8" fill="#eeeeee" />
<rect x="319.6" y="162.0" width="23.4" height="39.3" fill="#8a8a8a" />
<rect x="319.6" y="162.0" width="23.4" height="4.5" fill="#c8c8c8" />
<rect x="319.6" y="196.3" width="23.4" height="5.0" fill="#bebebe" />
<polygon points="339.0,166.5 342.0,164.0 343.0,164.0 343.0,200.3 339.0,196.3" fill="#727272" />
<rect x="84.0" y="196.5" width="19.0" height="6.0" fill="#e4b530" />
<rect x="84.0" y="238.0" width="19.0" height="6.0" fill="#e4b530" />
<rect x="78.0" y="199.5" width="27.8" height="41.5" fill="#8a8a8a" />
<rect x="78.0" y="199.5" width="27.8" height="4.5" fill="#c8c8c8" />
<rect x="78.0" y="236.0" width="27.8" height="5.0" fill="#bebebe" />
<polygon points="101.8,204.0 104.8,201.5 105.8,201.5 105.8,240.0 101.8,236.0" fill="#727272" />
<rect x="248" y="229" width="88.5" height="89.5" rx="7" fill="none" stroke="#e6e6e6" stroke-width="1.3"/>
<rect x="263.6" y="221.8" width="56.1" height="8.2" fill="#e4b530" />
<rect x="263.0" y="312.0" width="56.7" height="13.0" fill="#e4b530" />
<rect x="241" y="229" width="95.5" height="88.6" rx="7" fill="#6b6b6b"/>
<rect x="238.3" y="226.2" width="88.5" height="88.5" rx="6.5" fill="#808080"/>
<rect x="354.2" y="263.0" width="68.7" height="56.0" fill="#878787" stroke="#e6e6e6" stroke-width="1"/>
<rect x="353.5" y="276.0" width="2.3" height="7.0" fill="#e4b530" />
<rect x="421.3" y="276.0" width="2.3" height="7.0" fill="#e4b530" />
<rect x="353.5" y="292.0" width="2.3" height="7.0" fill="#e4b530" />
<rect x="421.3" y="292.0" width="2.3" height="7.0" fill="#e4b530" />
<rect x="353.5" y="306.0" width="2.3" height="7.0" fill="#e4b530" />
<rect x="421.3" y="306.0" width="2.3" height="7.0" fill="#e4b530" />
<rect x="380.0" y="260.5" width="12.0" height="2.5" fill="#e4b530" />
<rect x="380.0" y="319.0" width="12.0" height="2.5" fill="#e4b530" />
<circle cx="361.5" cy="269.0" r="1.6" fill="#f2f2f2" />
<rect x="278.0" y="375.7" width="67.8" height="44.3" fill="#464646" />
<line x1="276.8" y1="381.0" x2="276.8" y2="415.0" stroke="#e4e4e6" stroke-width="1.2" />
<line x1="347.0" y1="381.0" x2="347.0" y2="415.0" stroke="#e4e4e6" stroke-width="1.2" />
<rect x="280.6" y="359.3" width="5.3" height="17.2" rx="2" fill="#f1efe6"/>
<rect x="281.5" y="364.5" width="3.5" height="11.0" rx="1.5" fill="#dcb531"/>
<rect x="280.6" y="419.5" width="5.3" height="17.3" rx="2" fill="#f1efe6"/>
<rect x="281.5" y="420.5" width="3.5" height="11.0" rx="1.5" fill="#dcb531"/>
<rect x="287.2" y="359.3" width="5.3" height="17.2" rx="2" fill="#f1efe6"/>
<rect x="288.1" y="364.5" width="3.5" height="11.0" rx="1.5" fill="#dcb531"/>
<rect x="287.2" y="419.5" width="5.3" height="17.3" rx="2" fill="#f1efe6"/>
<rect x="288.1" y="420.5" width="3.5" height="11.0" rx="1.5" fill="#dcb531"/>
<rect x="293.7" y="359.3" width="5.3" height="17.2" rx="2" fill="#f1efe6"/>
<rect x="294.6" y="364.5" width="3.5" height="11.0" rx="1.5" fill="#dcb531"/>
<rect x="293.7" y="419.5" width="5.3" height="17.3" rx="2" fill="#f1efe6"/>
<rect x="294.6" y="420.5" width="3.5" height="11.0" rx="1.5" fill="#dcb531"/>
<rect x="300.2" y="359.3" width="5.3" height="17.2" rx="2" fill="#f1efe6"/>
<rect x="301.1" y="364.5" width="3.5" height="11.0" rx="1.5" fill="#dcb531"/>
<rect x="300.2" y="419.5" width="5.3" height="17.3" rx="2" fill="#f1efe6"/>
<rect x="301.1" y="420.5" width="3.5" height="11.0" rx="1.5" fill="#dcb531"/>
<rect x="306.8" y="359.3" width="5.3" height="17.2" rx="2" fill="#f1efe6"/>
<rect x="307.7" y="364.5" width="3.5" height="11.0" rx="1.5" fill="#dcb531"/>
<rect x="306.8" y="419.5" width="5.3" height="17.3" rx="2" fill="#f1efe6"/>
<rect x="307.7" y="420.5" width="3.5" height="11.0" rx="1.5" fill="#dcb531"/>
<rect x="313.4" y="359.3" width="5.3" height="17.2" rx="2" fill="#f1efe6"/>
<rect x="314.2" y="364.5" width="3.5" height="11.0" rx="1.5" fill="#dcb531"/>
<rect x="313.4" y="419.5" width="5.3" height="17.3" rx="2" fill="#f1efe6"/>
<rect x="314.2" y="420.5" width="3.5" height="11.0" rx="1.5" fill="#dcb531"/>
<rect x="319.9" y="359.3" width="5.3" height="17.2" rx="2" fill="#f1efe6"/>
<rect x="320.8" y="364.5" width="3.5" height="11.0" rx="1.5" fill="#dcb531"/>
<rect x="319.9" y="419.5" width="5.3" height="17.3" rx="2" fill="#f1efe6"/>
<rect x="320.8" y="420.5" width="3.5" height="11.0" rx="1.5" fill="#dcb531"/>
<rect x="326.5" y="359.3" width="5.3" height="17.2" rx="2" fill="#f1efe6"/>
<rect x="327.4" y="364.5" width="3.5" height="11.0" rx="1.5" fill="#dcb531"/>
<rect x="326.5" y="419.5" width="5.3" height="17.3" rx="2" fill="#f1efe6"/>
<rect x="327.4" y="420.5" width="3.5" height="11.0" rx="1.5" fill="#dcb531"/>
<rect x="333.0" y="359.3" width="5.3" height="17.2" rx="2" fill="#f1efe6"/>
<rect x="333.9" y="364.5" width="3.5" height="11.0" rx="1.5" fill="#dcb531"/>
<rect x="333.0" y="419.5" width="5.3" height="17.3" rx="2" fill="#f1efe6"/>
<rect x="333.9" y="420.5" width="3.5" height="11.0" rx="1.5" fill="#dcb531"/>
<rect x="339.6" y="359.3" width="5.3" height="17.2" rx="2" fill="#f1efe6"/>
<rect x="340.4" y="364.5" width="3.5" height="11.0" rx="1.5" fill="#dcb531"/>
<rect x="339.6" y="419.5" width="5.3" height="17.3" rx="2" fill="#f1efe6"/>
<rect x="340.4" y="420.5" width="3.5" height="11.0" rx="1.5" fill="#dcb531"/>
<circle cx="284.0" cy="414.0" r="1.2" fill="#3a3a3a" />
<polyline points="247.6,445.1 247.6,436.8 263.3,436.8 263.3,445.1" fill="none" stroke="#e4e4e6" stroke-width="1.3"/>
<polyline points="247.6,461.7 247.6,470.0 263.3,470.0 263.3,461.7" fill="none" stroke="#e4e4e6" stroke-width="1.3"/>
<rect x="249.8" y="439.0" width="11.3" height="5.4" fill="#e4b530" />
<rect x="249.8" y="462.4" width="11.3" height="5.4" fill="#e4b530" />
<rect x="249.6" y="444.4" width="11.7" height="3.3" fill="#c4c4c4" />
<rect x="249.6" y="459.0" width="11.7" height="3.3" fill="#c4c4c4" />
<rect x="249.6" y="447.8" width="11.3" height="11.3" fill="#070707" />
<rect x="265.2" y="443.5" width="14.4" height="5.4" fill="#e4b530" />
<rect x="265.2" y="461.7" width="14.4" height="5.4" fill="#e4b530" />
<rect x="265.2" y="448.9" width="14.4" height="2.4" fill="#c4c4c4" />
<rect x="265.2" y="459.3" width="14.4" height="2.4" fill="#c4c4c4" />
<rect x="265.2" y="451.3" width="14.4" height="8.0" fill="#070707" />
<polyline points="453.8,294.4 453.8,286.4 469.3,286.4 469.3,294.4" fill="none" stroke="#e4e4e6" stroke-width="1.3"/>
<polyline points="453.8,310.5 453.8,318.5 469.3,318.5 469.3,310.5" fill="none" stroke="#e4e4e6" stroke-width="1.3"/>
<rect x="456.0" y="288.6" width="11.1" height="5.2" fill="#e4b530" />
<rect x="456.0" y="311.1" width="11.1" height="5.2" fill="#e4b530" />
<rect x="455.8" y="293.8" width="11.5" height="3.2" fill="#c4c4c4" />
<rect x="455.8" y="307.9" width="11.5" height="3.2" fill="#c4c4c4" />
<rect x="455.8" y="297.0" width="11.1" height="10.9" fill="#070707" />
<polyline points="477.7,294.4 477.7,286.4 492.6,286.4 492.6,294.4" fill="none" stroke="#e4e4e6" stroke-width="1.3"/>
<polyline points="477.7,310.5 477.7,318.5 492.6,318.5 492.6,310.5" fill="none" stroke="#e4e4e6" stroke-width="1.3"/>
<rect x="479.9" y="288.6" width="10.5" height="5.2" fill="#e4b530" />
<rect x="479.9" y="311.1" width="10.5" height="5.2" fill="#e4b530" />
<rect x="479.7" y="293.8" width="10.9" height="3.2" fill="#c4c4c4" />
<rect x="479.7" y="307.9" width="10.9" height="3.2" fill="#c4c4c4" />
<rect x="479.7" y="297.0" width="10.5" height="10.9" fill="#070707" />
<polyline points="512.3,279.7 512.3,271.5 527.5,271.5 527.5,279.7" fill="none" stroke="#e4e4e6" stroke-width="1.3"/>
<polyline points="512.3,296.2 512.3,304.4 527.5,304.4 527.5,296.2" fill="none" stroke="#e4e4e6" stroke-width="1.3"/>
<rect x="514.5" y="273.7" width="10.8" height="5.4" fill="#e4b530" />
<rect x="514.5" y="296.8" width="10.8" height="5.4" fill="#e4b530" />
<rect x="514.3" y="279.1" width="11.2" height="3.3" fill="#c4c4c4" />
<rect x="514.3" y="293.5" width="11.2" height="3.3" fill="#c4c4c4" />
<rect x="514.3" y="282.4" width="10.8" height="11.2" fill="#070707" />
<rect x="438.7" y="169.3" width="10.6" height="24.8" fill="#b9b9b9" />
<rect x="438.7" y="169.3" width="10.6" height="2.7" fill="#d6cfb0" />
<rect x="438.7" y="176.0" width="10.6" height="10.0" fill="#050505" />
<rect x="438.7" y="190.0" width="10.6" height="4.1" fill="#e4b530" />
<polyline points="440.8,327.9 432.7,327.9 432.7,343.1 440.8,343.1" fill="none" stroke="#e4e4e6" stroke-width="1.3"/>
<polyline points="456.9,327.9 465.0,327.9 465.0,343.1 456.9,343.1" fill="none" stroke="#e4e4e6" stroke-width="1.3"/>
<rect x="434.9" y="330.1" width="5.2" height="10.8" fill="#e4b530" />
<rect x="457.6" y="330.1" width="5.2" height="10.8" fill="#e4b530" />
<rect x="440.1" y="329.9" width="3.2" height="11.2" fill="#c4c4c4" />
<rect x="454.3" y="329.9" width="3.2" height="11.2" fill="#c4c4c4" />
<rect x="443.4" y="329.9" width="11.0" height="10.8" fill="#070707" />
<polyline points="476.3,335.1 476.3,327.0 491.0,327.0 491.0,335.1" fill="none" stroke="#e4e4e6" stroke-width="1.3"/>
<polyline points="476.3,351.3 476.3,359.4 491.0,359.4 491.0,351.3" fill="none" stroke="#e4e4e6" stroke-width="1.3"/>
<rect x="478.5" y="329.2" width="10.3" height="5.3" fill="#e4b530" />
<rect x="478.5" y="351.9" width="10.3" height="5.3" fill="#e4b530" />
<rect x="478.3" y="334.5" width="10.7" height="3.2" fill="#c4c4c4" />
<rect x="478.3" y="348.7" width="10.7" height="3.2" fill="#c4c4c4" />
<rect x="478.3" y="337.7" width="10.3" height="11.0" fill="#070707" />
<polyline points="446.7,381.4 438.3,381.4 438.3,396.6 446.7,396.6" fill="none" stroke="#e4e4e6" stroke-width="1.3"/>
<polyline points="463.6,381.4 472.0,381.4 472.0,396.6 463.6,396.6" fill="none" stroke="#e4e4e6" stroke-width="1.3"/>
<rect x="440.5" y="383.6" width="5.6" height="10.8" fill="#e4b530" />
<rect x="464.2" y="383.6" width="5.6" height="10.8" fill="#e4b530" />
<rect x="446.1" y="383.4" width="3.4" height="11.2" fill="#c4c4c4" />
<rect x="460.9" y="383.4" width="3.4" height="11.2" fill="#c4c4c4" />
<rect x="449.4" y="383.4" width="11.5" height="10.8" fill="#070707" />
<polyline points="450.6,417.1 442.5,417.1 442.5,432.0 450.6,432.0" fill="none" stroke="#e4e4e6" stroke-width="1.3"/>
<polyline points="466.8,417.1 474.9,417.1 474.9,432.0 466.8,432.0" fill="none" stroke="#e4e4e6" stroke-width="1.3"/>
<rect x="444.7" y="419.3" width="5.3" height="10.5" fill="#e4b530" />
<rect x="467.4" y="419.3" width="5.3" height="10.5" fill="#e4b530" />
<rect x="450.0" y="419.1" width="3.2" height="10.9" fill="#c4c4c4" />
<rect x="464.2" y="419.1" width="3.2" height="10.9" fill="#c4c4c4" />
<rect x="453.2" y="419.1" width="11.0" height="10.5" fill="#070707" />
<polyline points="453.4,452.3 444.8,452.3 444.8,468.4 453.4,468.4" fill="none" stroke="#e4e4e6" stroke-width="1.3"/>
<polyline points="470.4,452.3 479.0,452.3 479.0,468.4 470.4,468.4" fill="none" stroke="#e4e4e6" stroke-width="1.3"/>
<rect x="447.0" y="454.5" width="5.7" height="11.7" fill="#e4b530" />
<rect x="471.1" y="454.5" width="5.7" height="11.7" fill="#e4b530" />
<rect x="452.7" y="454.3" width="3.4" height="12.1" fill="#c4c4c4" />
<rect x="467.7" y="454.3" width="3.4" height="12.1" fill="#c4c4c4" />
<rect x="456.1" y="454.3" width="11.6" height="11.7" fill="#070707" />
<polyline points="589.0,367.9 580.5,367.9 580.5,382.5 589.0,382.5" fill="none" stroke="#e4e4e6" stroke-width="1.3"/>
<polyline points="605.8,367.9 614.3,367.9 614.3,382.5 605.8,382.5" fill="none" stroke="#e4e4e6" stroke-width="1.3"/>
<rect x="582.7" y="370.1" width="5.6" height="10.2" fill="#e4b530" />
<rect x="606.5" y="370.1" width="5.6" height="10.2" fill="#e4b530" />
<rect x="588.3" y="369.9" width="3.4" height="10.6" fill="#c4c4c4" />
<rect x="603.1" y="369.9" width="3.4" height="10.6" fill="#c4c4c4" />
<rect x="591.7" y="369.9" width="11.5" height="10.2" fill="#070707" />
<polyline points="591.0,403.9 582.7,403.9 582.7,420.0 591.0,420.0" fill="none" stroke="#e4e4e6" stroke-width="1.3"/>
<polyline points="607.5,403.9 615.7,403.9 615.7,420.0 607.5,420.0" fill="none" stroke="#e4e4e6" stroke-width="1.3"/>
<rect x="584.9" y="406.1" width="5.4" height="11.7" fill="#e4b530" />
<rect x="608.1" y="406.1" width="5.4" height="11.7" fill="#e4b530" />
<rect x="590.3" y="405.9" width="3.3" height="12.1" fill="#c4c4c4" />
<rect x="604.8" y="405.9" width="3.3" height="12.1" fill="#c4c4c4" />
<rect x="593.6" y="405.9" width="11.2" height="11.7" fill="#070707" />
<polyline points="592.0,441.0 583.9,441.0 583.9,457.4 592.0,457.4" fill="none" stroke="#e4e4e6" stroke-width="1.3"/>
<polyline points="608.4,441.0 616.5,441.0 616.5,457.4 608.4,457.4" fill="none" stroke="#e4e4e6" stroke-width="1.3"/>
<rect x="586.1" y="443.2" width="5.3" height="12.0" fill="#e4b530" />
<rect x="609.0" y="443.2" width="5.3" height="12.0" fill="#e4b530" />
<rect x="591.4" y="443.0" width="3.3" height="12.4" fill="#c4c4c4" />
<rect x="605.7" y="443.0" width="3.3" height="12.4" fill="#c4c4c4" />
<rect x="594.7" y="443.0" width="11.1" height="12.0" fill="#070707" />
<polyline points="262.3,533.2 262.3,525.0 278.6,525.0 278.6,533.2" fill="none" stroke="#e4e4e6" stroke-width="1.3"/>
<polyline points="262.3,549.8 262.3,558.0 278.6,558.0 278.6,549.8" fill="none" stroke="#e4e4e6" stroke-width="1.3"/>
<rect x="264.5" y="527.2" width="11.9" height="5.4" fill="#e4b530" />
<rect x="264.5" y="550.4" width="11.9" height="5.4" fill="#e4b530" />
<rect x="264.3" y="532.6" width="12.3" height="3.3" fill="#c4c4c4" />
<rect x="264.3" y="547.1" width="12.3" height="3.3" fill="#c4c4c4" />
<rect x="264.3" y="535.9" width="11.9" height="11.2" fill="#070707" />
<polyline points="418.5,523.8 418.5,515.4 434.4,515.4 434.4,523.8" fill="none" stroke="#e4e4e6" stroke-width="1.3"/>
<polyline points="418.5,540.4 418.5,548.8 434.4,548.8 434.4,540.4" fill="none" stroke="#e4e4e6" stroke-width="1.3"/>
<rect x="420.7" y="517.6" width="11.5" height="5.5" fill="#e4b530" />
<rect x="420.7" y="541.1" width="11.5" height="5.5" fill="#e4b530" />
<rect x="420.5" y="523.1" width="11.9" height="3.3" fill="#c4c4c4" />
<rect x="420.5" y="537.8" width="11.9" height="3.3" fill="#c4c4c4" />
<rect x="420.5" y="526.4" width="11.5" height="11.4" fill="#070707" />
<polyline points="43.8,666.3 43.8,658.0 58.6,658.0 58.6,666.3" fill="none" stroke="#e4e4e6" stroke-width="1.3"/>
<polyline points="43.8,682.9 43.8,691.2 58.6,691.2 58.6,682.9" fill="none" stroke="#e4e4e6" stroke-width="1.3"/>
<rect x="46.0" y="660.2" width="10.4" height="5.4" fill="#e4b530" />
<rect x="46.0" y="683.6" width="10.4" height="5.4" fill="#e4b530" />
<rect x="45.8" y="665.6" width="10.8" height="3.3" fill="#c4c4c4" />
<rect x="45.8" y="680.2" width="10.8" height="3.3" fill="#c4c4c4" />
<rect x="45.8" y="669.0" width="10.4" height="11.3" fill="#070707" />
<polyline points="124.3,667.4 124.3,659.1 140.6,659.1 140.6,667.4" fill="none" stroke="#e4e4e6" stroke-width="1.3"/>
<polyline points="124.3,683.9 124.3,692.2 140.6,692.2 140.6,683.9" fill="none" stroke="#e4e4e6" stroke-width="1.3"/>
<rect x="126.5" y="661.3" width="11.9" height="5.4" fill="#e4b530" />
<rect x="126.5" y="684.6" width="11.9" height="5.4" fill="#e4b530" />
<rect x="126.3" y="666.7" width="12.3" height="3.3" fill="#c4c4c4" />
<rect x="126.3" y="681.3" width="12.3" height="3.3" fill="#c4c4c4" />
<rect x="126.3" y="670.0" width="11.9" height="11.3" fill="#070707" />
<polyline points="89.8,699.8 81.5,699.8 81.5,716.7 89.8,716.7" fill="none" stroke="#e4e4e6" stroke-width="1.3"/>
<polyline points="106.3,699.8 114.6,699.8 114.6,716.7 106.3,716.7" fill="none" stroke="#e4e4e6" stroke-width="1.3"/>
<rect x="83.7" y="702.0" width="5.4" height="12.5" fill="#e4b530" />
<rect x="107.0" y="702.0" width="5.4" height="12.5" fill="#e4b530" />
<rect x="89.1" y="701.8" width="3.3" height="12.9" fill="#c4c4c4" />
<rect x="103.7" y="701.8" width="3.3" height="12.9" fill="#c4c4c4" />
<rect x="92.4" y="701.8" width="11.3" height="12.5" fill="#070707" />
<polyline points="97.7,763.0 89.7,763.0 89.7,777.8 97.7,777.8" fill="none" stroke="#e4e4e6" stroke-width="1.3"/>
<polyline points="113.8,763.0 121.8,763.0 121.8,777.8 113.8,777.8" fill="none" stroke="#e4e4e6" stroke-width="1.3"/>
<rect x="91.9" y="765.2" width="5.2" height="10.4" fill="#e4b530" />
<rect x="114.4" y="765.2" width="5.2" height="10.4" fill="#e4b530" />
<rect x="97.1" y="765.0" width="3.2" height="10.8" fill="#c4c4c4" />
<rect x="111.2" y="765.0" width="3.2" height="10.8" fill="#c4c4c4" />
<rect x="100.3" y="765.0" width="10.9" height="10.4" fill="#070707" />
<polyline points="179.4,709.4 179.4,701.4 193.0,701.4 193.0,709.4" fill="none" stroke="#e4e4e6" stroke-width="1.3"/>
<polyline points="179.4,725.5 179.4,733.5 193.0,733.5 193.0,725.5" fill="none" stroke="#e4e4e6" stroke-width="1.3"/>
<rect x="181.6" y="703.6" width="9.2" height="5.2" fill="#e4b530" />
<rect x="181.6" y="726.1" width="9.2" height="5.2" fill="#e4b530" />
<rect x="181.4" y="708.8" width="9.6" height="3.2" fill="#c4c4c4" />
<rect x="181.4" y="722.9" width="9.6" height="3.2" fill="#c4c4c4" />
<rect x="181.4" y="712.0" width="9.2" height="10.9" fill="#070707" />
<rect x="133.7" y="763.0" width="33.1" height="14.8" fill="#ededed" />
<rect x="141.0" y="765.0" width="5.0" height="11.0" fill="#e4b530" />
<rect x="157.0" y="765.0" width="6.0" height="11.0" fill="#e4b530" />
<rect x="146.0" y="765.0" width="11.0" height="11.0" fill="#c8322a" />
<circle cx="179.6" cy="769.5" r="4.5" fill="none" stroke="#3f5f88" stroke-width="1.5"/>
<line x1="78.0" y1="658.6" x2="101.6" y2="658.6" stroke="#e4e4e6" stroke-width="1.2" />
<line x1="95.0" y1="690.4" x2="102.0" y2="690.4" stroke="#e4e4e6" stroke-width="1.2" />
<rect x="86.6" y="659.4" width="15.9" height="30.6" fill="#3b3b3b" />
<rect x="76.3" y="660.6" width="9.4" height="6.8" fill="#ece9dc" />
<rect x="78.3" y="661.4" width="7.4" height="5.2" fill="#e4b530" />
<rect x="76.3" y="671.0" width="9.4" height="6.8" fill="#ece9dc" />
<rect x="78.3" y="671.8" width="7.4" height="5.2" fill="#e4b530" />
<rect x="76.3" y="681.3" width="9.4" height="6.8" fill="#ece9dc" />
<rect x="78.3" y="682.1" width="7.4" height="5.2" fill="#e4b530" />
<rect x="103.5" y="660.4" width="14.1" height="7.2" rx="3" fill="#e4b530"/>
<rect x="103.5" y="660.4" width="6.5" height="7.2" rx="2" fill="#f0ecdc"/>
<rect x="103.5" y="681.1" width="14.1" height="7.2" rx="3" fill="#e4b530"/>
<rect x="103.5" y="681.1" width="6.5" height="7.2" rx="2" fill="#f0ecdc"/>
<line x1="79.0" y1="163.5" x2="79.0" y2="191.0" stroke="#e4e4e6" stroke-width="1.2" />
<line x1="45.7" y1="191.0" x2="79.0" y2="191.0" stroke="#e4e4e6" stroke-width="1.2" />
<rect x="43.7" y="160.5" width="33.8" height="25.8" fill="#333333" />
<rect x="43.7" y="186.3" width="33.8" height="3.2" fill="#222222" />
<rect x="76.0" y="160.5" width="1.5" height="29.0" fill="#2a2a2a" />
<polygon points="32.8,161.3 40.5,161.3 60.6,169.9 60.6,177.0 53.0,177.0 32.8,168.1" fill="#e2d02c" />
<polygon points="36.3,164.4 40.5,164.4 60.6,173.0 60.6,177.0 56.5,177.0 36.3,168.1" fill="#c2b022" />
<rect x="32.8" y="161.3" width="7.7" height="6.8" fill="#f3e23a" />
<line x1="160.0" y1="231.0" x2="160.0" y2="259.1" stroke="#e4e4e6" stroke-width="1.2" />
<line x1="127.0" y1="259.1" x2="160.0" y2="259.1" stroke="#e4e4e6" stroke-width="1.2" />
<rect x="125.0" y="228.0" width="33.5" height="26.4" fill="#333333" />
<rect x="125.0" y="254.4" width="33.5" height="3.2" fill="#222222" />
<rect x="157.0" y="228.0" width="1.5" height="29.6" fill="#2a2a2a" />
<polygon points="116.5,231.3 124.0,231.3 142.3,237.5 142.3,244.2 135.0,244.2 116.5,237.6" fill="#e2d02c" />
<polygon points="119.9,234.1 124.0,234.1 142.3,240.3 142.3,244.2 138.4,244.2 119.9,237.6" fill="#c2b022" />
<rect x="116.5" y="231.3" width="7.5" height="6.3" fill="#f3e23a" />
<line x1="481.5" y1="121.7" x2="481.5" y2="151.5" stroke="#e4e4e6" stroke-width="1.2" />
<line x1="452.7" y1="151.5" x2="481.5" y2="151.5" stroke="#e4e4e6" stroke-width="1.2" />
<rect x="450.7" y="118.7" width="29.3" height="28.1" fill="#333333" />
<rect x="450.7" y="146.8" width="29.3" height="3.2" fill="#222222" />
<rect x="478.5" y="118.7" width="1.5" height="31.3" fill="#2a2a2a" />
<polygon points="452.0,119.1 459.9,119.1 467.3,128.4 467.3,135.7 459.8,135.7 452.0,126.0" fill="#e2d02c" />
<polygon points="455.6,122.2 459.9,122.2 467.3,131.5 467.3,135.7 463.4,135.7 455.6,126.0" fill="#c2b022" />
<rect x="452.0" y="119.1" width="7.9" height="6.9" fill="#f3e23a" />
<line x1="589.0" y1="121.4" x2="589.0" y2="151.3" stroke="#e4e4e6" stroke-width="1.2" />
<line x1="561.7" y1="151.3" x2="589.0" y2="151.3" stroke="#e4e4e6" stroke-width="1.2" />
<rect x="559.7" y="118.4" width="27.8" height="28.2" fill="#333333" />
<rect x="559.7" y="146.6" width="27.8" height="3.2" fill="#222222" />
<rect x="586.0" y="118.4" width="1.5" height="31.4" fill="#2a2a2a" />
<polygon points="565.0,118.8 571.4,118.8 577.0,128.5 577.0,135.7 570.5,135.7 565.0,126.1" fill="#e2d02c" />
<polygon points="567.9,122.1 571.4,122.1 577.0,131.8 577.0,135.7 573.4,135.7 567.9,126.1" fill="#c2b022" />
<rect x="565.0" y="118.8" width="6.4" height="7.3" fill="#f3e23a" />
<line x1="475.2" y1="201.4" x2="475.2" y2="229.7" stroke="#e4e4e6" stroke-width="1.2" />
<line x1="445.6" y1="229.7" x2="475.2" y2="229.7" stroke="#e4e4e6" stroke-width="1.2" />
<rect x="443.6" y="198.4" width="30.1" height="26.6" fill="#333333" />
<rect x="443.6" y="225.0" width="30.1" height="3.2" fill="#222222" />
<rect x="472.2" y="198.4" width="1.5" height="29.8" fill="#2a2a2a" />
<polygon points="445.2,200.5 452.6,200.5 460.1,208.0 460.1,215.1 453.0,215.1 445.2,208.1" fill="#e2d02c" />
<polygon points="448.5,203.9 452.6,203.9 460.1,211.4 460.1,215.1 456.3,215.1 448.5,208.1" fill="#c2b022" />
<rect x="445.2" y="200.5" width="7.4" height="7.6" fill="#f3e23a" />
<line x1="574.9" y1="243.7" x2="574.9" y2="270.5" stroke="#e4e4e6" stroke-width="1.2" />
<line x1="548.4" y1="270.5" x2="574.9" y2="270.5" stroke="#e4e4e6" stroke-width="1.2" />
<rect x="546.4" y="240.7" width="27.0" height="25.1" fill="#333333" />
<rect x="546.4" y="265.8" width="27.0" height="3.2" fill="#222222" />
<rect x="571.9" y="240.7" width="1.5" height="28.3" fill="#2a2a2a" />
<polygon points="549.8,244.8 557.0,244.8 562.8,250.5 562.8,257.6 556.0,257.6 549.8,252.0" fill="#e2d02c" />
<polygon points="553.0,248.0 557.0,248.0 562.8,253.7 562.8,257.6 559.2,257.6 553.0,252.0" fill="#c2b022" />
<rect x="549.8" y="244.8" width="7.2" height="7.2" fill="#f3e23a" />
<line x1="574.9" y1="299.2" x2="574.9" y2="325.0" stroke="#e4e4e6" stroke-width="1.2" />
<line x1="548.4" y1="325.0" x2="574.9" y2="325.0" stroke="#e4e4e6" stroke-width="1.2" />
<rect x="546.4" y="296.2" width="27.0" height="24.1" fill="#333333" />
<rect x="546.4" y="320.3" width="27.0" height="3.2" fill="#222222" />
<rect x="571.9" y="296.2" width="1.5" height="27.3" fill="#2a2a2a" />
<polygon points="549.8,300.8 557.0,300.8 562.8,305.5 562.8,312.7 556.0,312.7 549.8,307.5" fill="#e2d02c" />
<polygon points="553.0,303.8 557.0,303.8 562.8,308.5 562.8,312.7 559.2,312.7 553.0,307.5" fill="#c2b022" />
<rect x="549.8" y="300.8" width="7.2" height="6.7" fill="#f3e23a" />
<line x1="376.7" y1="226.8" x2="376.7" y2="254.8" stroke="#e4e4e6" stroke-width="1.2" />
<line x1="346.7" y1="254.8" x2="376.7" y2="254.8" stroke="#e4e4e6" stroke-width="1.2" />
<rect x="344.7" y="223.8" width="30.5" height="26.3" fill="#333333" />
<rect x="344.7" y="250.1" width="30.5" height="3.2" fill="#222222" />
<rect x="373.7" y="223.8" width="1.5" height="29.5" fill="#2a2a2a" />
<polygon points="343.4,227.2 350.0,227.2 361.5,233.0 361.5,240.3 355.0,240.3 343.4,234.6" fill="#e2d02c" />
<polygon points="346.4,230.5 350.0,230.5 361.5,236.3 361.5,240.3 358.0,240.3 346.4,234.6" fill="#c2b022" />
<rect x="343.4" y="227.2" width="6.6" height="7.4" fill="#f3e23a" />
<line x1="559.7" y1="565.8" x2="587.9" y2="565.8" stroke="#e4e4e6" stroke-width="1.1" />
<line x1="587.9" y1="565.8" x2="587.9" y2="593.3" stroke="#e4e4e6" stroke-width="1.1" />
<rect x="559.7" y="566.5" width="27.5" height="26.8" fill="#323232" />
<rect x="566.1" y="580.0" width="10.0" height="7.3" fill="#cdbb24" />
<rect x="565.1" y="577.3" width="10.0" height="7.7" fill="#f3e23a" />
<line x1="640.5" y1="565.8" x2="668.7" y2="565.8" stroke="#e4e4e6" stroke-width="1.1" />
<line x1="668.7" y1="565.8" x2="668.7" y2="593.3" stroke="#e4e4e6" stroke-width="1.1" />
<rect x="640.5" y="566.5" width="27.5" height="26.8" fill="#323232" />
<rect x="649.2" y="580.0" width="10.0" height="7.3" fill="#cdbb24" />
<rect x="648.2" y="577.3" width="10.0" height="7.7" fill="#f3e23a" />
<rect x="640.2" y="254.5" width="54.5" height="271.3" fill="#3a3a3a" />
<line x1="695.9" y1="256.0" x2="695.9" y2="526.6" stroke="#e4e4e6" stroke-width="1.3" />
<rect x="648.8" y="260.0" width="7.8" height="10.9" fill="#c9b722" />
<rect x="648.0" y="258.0" width="8.0" height="7.7" fill="#f0e234" />
<rect x="676.6" y="260.0" width="7.8" height="10.9" fill="#c9b722" />
<rect x="675.8" y="258.0" width="8.0" height="7.7" fill="#f0e234" />
<rect x="648.8" y="287.9" width="7.8" height="10.4" fill="#c9b722" />
<rect x="648.0" y="285.9" width="8.0" height="7.7" fill="#f0e234" />
<rect x="676.6" y="287.9" width="7.8" height="10.4" fill="#c9b722" />
<rect x="675.8" y="285.9" width="8.0" height="7.7" fill="#f0e234" />
<rect x="648.8" y="315.9" width="7.8" height="9.9" fill="#c9b722" />
<rect x="648.0" y="313.9" width="8.0" height="7.7" fill="#f0e234" />
<rect x="676.6" y="315.9" width="7.8" height="9.9" fill="#c9b722" />
<rect x="675.8" y="313.9" width="8.0" height="7.7" fill="#f0e234" />
<rect x="648.8" y="343.8" width="7.8" height="9.4" fill="#c9b722" />
<rect x="648.0" y="341.8" width="8.0" height="7.7" fill="#f0e234" />
<rect x="676.6" y="343.8" width="7.8" height="9.4" fill="#c9b722" />
<rect x="675.8" y="341.8" width="8.0" height="7.7" fill="#f0e234" />
<rect x="648.8" y="371.8" width="7.8" height="8.9" fill="#c9b722" />
<rect x="648.0" y="369.8" width="8.0" height="7.7" fill="#f0e234" />
<rect x="676.6" y="371.8" width="7.8" height="8.9" fill="#c9b722" />
<rect x="675.8" y="369.8" width="8.0" height="7.7" fill="#f0e234" />
<rect x="648.8" y="399.7" width="7.8" height="8.4" fill="#c9b722" />
<rect x="648.0" y="397.7" width="8.0" height="7.7" fill="#f0e234" />
<rect x="676.6" y="399.7" width="7.8" height="8.4" fill="#c9b722" />
<rect x="675.8" y="397.7" width="8.0" height="7.7" fill="#f0e234" />
<rect x="648.8" y="427.6" width="7.8" height="7.9" fill="#c9b722" />
<rect x="648.0" y="425.6" width="8.0" height="7.7" fill="#f0e234" />
<rect x="676.6" y="427.6" width="7.8" height="7.9" fill="#c9b722" />
<rect x="675.8" y="425.6" width="8.0" height="7.7" fill="#f0e234" />
<rect x="648.8" y="455.6" width="7.8" height="7.4" fill="#c9b722" />
<rect x="648.0" y="453.6" width="8.0" height="7.7" fill="#f0e234" />
<rect x="676.6" y="455.6" width="7.8" height="7.4" fill="#c9b722" />
<rect x="675.8" y="453.6" width="8.0" height="7.7" fill="#f0e234" />
<rect x="648.8" y="483.5" width="7.8" height="6.9" fill="#c9b722" />
<rect x="648.0" y="481.5" width="8.0" height="7.7" fill="#f0e234" />
<rect x="676.6" y="483.5" width="7.8" height="6.9" fill="#c9b722" />
<rect x="675.8" y="481.5" width="8.0" height="7.7" fill="#f0e234" />
<rect x="648.8" y="511.5" width="7.8" height="6.4" fill="#c9b722" />
<rect x="648.0" y="509.5" width="8.0" height="7.7" fill="#f0e234" />
<rect x="676.6" y="511.5" width="7.8" height="6.4" fill="#c9b722" />
<rect x="675.8" y="509.5" width="8.0" height="7.7" fill="#f0e234" />
<rect x="43.6" y="255.0" width="54.6" height="216.2" fill="#313131" />
<polygon points="98.0,254.3 102.2,256.4 104.6,258.0 104.6,471.2 98.2,471.2" fill="#2a2a2a" />
<line x1="105.8" y1="257.0" x2="105.8" y2="472.0" stroke="#e4e4e6" stroke-width="1.3" />
<line x1="52.0" y1="472.2" x2="105.8" y2="472.2" stroke="#e4e4e6" stroke-width="1.3" />
<polygon points="40.0,258.7 60.0,265.2 60.0,272.1 40.0,265.6" fill="#e2d02c" />
<polygon points="40.0,264.2 60.0,270.7 60.0,272.1 40.0,265.6" fill="#c9b826" />
<rect x="33.0" y="258.7" width="7.5" height="6.6" fill="#f3e23a" />
<polygon points="67.4,258.7 87.0,265.2 87.0,272.1 67.4,265.6" fill="#e2d02c" />
<polygon points="67.4,264.2 87.0,270.7 87.0,272.1 67.4,265.6" fill="#c9b826" />
<rect x="60.4" y="258.7" width="7.5" height="6.6" fill="#f3e23a" />
<polygon points="40.0,287.0 60.0,292.6 60.0,299.5 40.0,293.9" fill="#e2d02c" />
<polygon points="40.0,292.5 60.0,298.1 60.0,299.5 40.0,293.9" fill="#c9b826" />
<rect x="33.0" y="287.0" width="7.5" height="6.6" fill="#f3e23a" />
<polygon points="67.4,287.0 87.0,292.6 87.0,299.5 67.4,293.9" fill="#e2d02c" />
<polygon points="67.4,292.5 87.0,298.1 87.0,299.5 67.4,293.9" fill="#c9b826" />
<rect x="60.4" y="287.0" width="7.5" height="6.6" fill="#f3e23a" />
<polygon points="40.0,314.7 60.0,319.5 60.0,326.4 40.0,321.6" fill="#e2d02c" />
<polygon points="40.0,320.2 60.0,325.0 60.0,326.4 40.0,321.6" fill="#c9b826" />
<rect x="33.0" y="314.7" width="7.5" height="6.6" fill="#f3e23a" />
<polygon points="67.4,314.7 87.0,319.5 87.0,326.4 67.4,321.6" fill="#e2d02c" />
<polygon points="67.4,320.2 87.0,325.0 87.0,326.4 67.4,321.6" fill="#c9b826" />
<rect x="60.4" y="314.7" width="7.5" height="6.6" fill="#f3e23a" />
<polygon points="40.0,342.7 60.0,346.6 60.0,353.5 40.0,349.6" fill="#e2d02c" />
<polygon points="40.0,348.2 60.0,352.1 60.0,353.5 40.0,349.6" fill="#c9b826" />
<rect x="33.0" y="342.7" width="7.5" height="6.6" fill="#f3e23a" />
<polygon points="67.4,342.7 87.0,346.6 87.0,353.5 67.4,349.6" fill="#e2d02c" />
<polygon points="67.4,348.2 87.0,352.1 87.0,353.5 67.4,349.6" fill="#c9b826" />
<rect x="60.4" y="342.7" width="7.5" height="6.6" fill="#f3e23a" />
<polygon points="40.0,370.5 60.0,373.5 60.0,380.4 40.0,377.4" fill="#e2d02c" />
<polygon points="40.0,376.0 60.0,379.0 60.0,380.4 40.0,377.4" fill="#c9b826" />
<rect x="33.0" y="370.5" width="7.5" height="6.6" fill="#f3e23a" />
<polygon points="67.4,370.5 87.0,373.5 87.0,380.4 67.4,377.4" fill="#e2d02c" />
<polygon points="67.4,376.0 87.0,379.0 87.0,380.4 67.4,377.4" fill="#c9b826" />
<rect x="60.4" y="370.5" width="7.5" height="6.6" fill="#f3e23a" />
<polygon points="40.0,398.3 60.0,400.5 60.0,407.4 40.0,405.2" fill="#e2d02c" />
<polygon points="40.0,403.8 60.0,406.0 60.0,407.4 40.0,405.2" fill="#c9b826" />
<rect x="33.0" y="398.3" width="7.5" height="6.6" fill="#f3e23a" />
<polygon points="67.4,398.3 87.0,400.5 87.0,407.4 67.4,405.2" fill="#e2d02c" />
<polygon points="67.4,403.8 87.0,406.0 87.0,407.4 67.4,405.2" fill="#c9b826" />
<rect x="60.4" y="398.3" width="7.5" height="6.6" fill="#f3e23a" />
<polygon points="40.0,426.3 60.0,427.6 60.0,434.5 40.0,433.2" fill="#e2d02c" />
<polygon points="40.0,431.8 60.0,433.1 60.0,434.5 40.0,433.2" fill="#c9b826" />
<rect x="33.0" y="426.3" width="7.5" height="6.6" fill="#f3e23a" />
<polygon points="67.4,426.3 87.0,427.6 87.0,434.5 67.4,433.2" fill="#e2d02c" />
<polygon points="67.4,431.8 87.0,433.1 87.0,434.5 67.4,433.2" fill="#c9b826" />
<rect x="60.4" y="426.3" width="7.5" height="6.6" fill="#f3e23a" />
<polygon points="40.0,454.1 60.0,454.5 60.0,461.4 40.0,461.0" fill="#e2d02c" />
<polygon points="40.0,459.6 60.0,460.0 60.0,461.4 40.0,461.0" fill="#c9b826" />
<rect x="33.0" y="454.1" width="7.5" height="6.6" fill="#f3e23a" />
<polygon points="67.4,454.1 87.0,454.5 87.0,461.4 67.4,461.0" fill="#e2d02c" />
<polygon points="67.4,459.6 87.0,460.0 87.0,461.4 67.4,461.0" fill="#c9b826" />
<rect x="60.4" y="454.1" width="7.5" height="6.6" fill="#f3e23a" />
<rect x="22.9" y="498.5" width="94.9" height="85.1" fill="#69d569" />
<rect x="22.9" y="498.5" width="6.1" height="85.1" fill="#74dc74" />
<rect x="68.0" y="498.5" width="3.8" height="85.1" fill="#7fe27f" />
<rect x="71.8" y="498.5" width="37.6" height="85.1" fill="#6bd86b" />
<rect x="109.4" y="498.5" width="8.4" height="85.1" fill="#62cc62" />
<rect x="29.0" y="580.0" width="88.8" height="3.6" fill="#5fc65f" />
<circle cx="48.6" cy="520.1" r="14.3" fill="#4fae4f" />
<circle cx="50.6" cy="520.4" r="14.0" fill="#e9e7f0" />
<line x1="41.0" y1="511.9" x2="59.0" y2="529.4" stroke="#aaa8b2" stroke-width="1.5" />
<circle cx="73.3" cy="520.7" r="2.1" fill="#7ee07e" stroke="#58b858" stroke-width="0.6"/>
<circle cx="48.6" cy="562.3" r="14.3" fill="#4fae4f" />
<circle cx="50.6" cy="562.6" r="14.0" fill="#e9e7f0" />
<line x1="41.0" y1="554.1" x2="59.0" y2="571.6" stroke="#aaa8b2" stroke-width="1.5" />
<circle cx="73.3" cy="562.9" r="2.1" fill="#7ee07e" stroke="#58b858" stroke-width="0.6"/>
<line x1="173.2" y1="538.0" x2="173.2" y2="619.3" stroke="#e4e4e6" stroke-width="1.3" />
<rect x="125.0" y="539.7" width="41.5" height="3.3" fill="#262626" />
<rect x="137.5" y="590.0" width="33.8" height="30.0" fill="#2b2b2b" />
<rect x="166.5" y="539.0" width="4.8" height="81.0" fill="#1e1e1e" />
<rect x="144.8" y="539.7" width="21.8" height="56.3" fill="#232323" />
<rect x="144.8" y="542.0" width="1.7" height="54.0" fill="#333333" />
<rect x="148.5" y="542.0" width="1.0" height="54.0" fill="#1e1e1e" />
<rect x="119.0" y="542.9" width="25.8" height="53.9" fill="#2d2d2d" />
<polygon points="130.3,608.0 147.0,604.0 154.4,604.0 154.4,611.2 137.5,615.3 130.3,615.3" fill="#e2d02c" />
<polygon points="133.5,611.3 150.2,607.3 154.4,607.3 154.4,611.2 137.5,615.3 133.5,615.3" fill="#c2b022" />
<rect x="130.3" y="608.0" width="7.2" height="7.3" fill="#f3e23a" />
<line x1="226.2" y1="538.0" x2="226.2" y2="619.3" stroke="#e4e4e6" stroke-width="1.3" />
<rect x="193.8" y="538.0" width="32.2" height="30.6" fill="#2b2b2b" />
<rect x="218.0" y="538.0" width="7.0" height="81.0" fill="#1f1f1f" />
<polygon points="185.8,552.5 202.7,550.1 209.9,550.1 209.9,557.3 193.8,559.8 185.8,559.8" fill="#e2d02c" />
<polygon points="189.4,555.8 206.3,553.4 209.9,553.4 209.9,557.3 193.8,559.8 189.4,559.8" fill="#c2b022" />
<rect x="185.8" y="552.5" width="8.0" height="7.3" fill="#f3e23a" />
<polygon points="175.3,571.0 181.0,567.8 218.0,567.8 218.0,623.3 200.2,626.5 175.3,626.5" fill="#262626" />
<rect x="200.2" y="567.8" width="1.8" height="56.2" fill="#343434" />
<rect x="175.3" y="571.0" width="24.9" height="55.5" fill="#2c2c2c" />
<line x1="258.0" y1="566.0" x2="280.8" y2="566.0" stroke="#e4e4e6" stroke-width="1.3" />
<line x1="280.8" y1="566.0" x2="280.8" y2="625.0" stroke="#e4e4e6" stroke-width="1.3" />
<polygon points="230.2,569.5 238.0,566.3 279.5,566.3 279.5,617.5 256.0,623.5" fill="#262626" />
<rect x="256.0" y="569.3" width="22.5" height="47.7" fill="#2a2a2a" />
<rect x="256.6" y="569.3" width="1.2" height="51.2" fill="#383838" />
<rect x="230.2" y="569.5" width="25.8" height="54.0" fill="#303030" />
<line x1="412.6" y1="565.4" x2="441.5" y2="565.4" stroke="#e4e4e6" stroke-width="1.3" />
<line x1="441.5" y1="565.4" x2="441.5" y2="619.2" stroke="#e4e4e6" stroke-width="1.3" />
<polygon points="400.4,571.0 412.6,566.2 437.3,566.2 437.3,619.5 426.3,625.5" fill="#262626" />
<rect x="426.3" y="569.2" width="10.0" height="49.8" fill="#2a2a2a" />
<rect x="426.9" y="569.2" width="1.2" height="53.3" fill="#383838" />
<rect x="400.4" y="571.0" width="25.9" height="54.5" fill="#303030" />
<line x1="466.0" y1="565.3" x2="495.0" y2="565.3" stroke="#e4e4e6" stroke-width="1.3" />
<line x1="495.0" y1="565.3" x2="495.0" y2="619.9" stroke="#e4e4e6" stroke-width="1.3" />
<polygon points="457.7,572.0 466.8,566.5 492.9,566.5 492.9,620.2 483.0,626.2" fill="#262626" />
<rect x="483.0" y="569.5" width="8.9" height="50.2" fill="#2a2a2a" />
<rect x="483.6" y="569.5" width="1.2" height="53.7" fill="#383838" />
<rect x="457.7" y="572.0" width="25.3" height="54.2" fill="#303030" />
<line x1="51.9" y1="617.8" x2="105.7" y2="617.8" stroke="#e4e4e6" stroke-width="1.3" />
<line x1="105.7" y1="617.8" x2="105.7" y2="647.0" stroke="#e4e4e6" stroke-width="1.3" />
<polygon points="19.1,626.7 52.2,619.6 104.3,619.6 104.3,647.8 77.6,652.0 19.1,652.0" fill="#262626" />
<rect x="94.4" y="620.0" width="1.2" height="28.0" fill="#1e1e1e" />
<rect x="74.0" y="624.0" width="3.6" height="28.0" fill="#202020" />
<rect x="18.2" y="626.7" width="55.8" height="25.3" rx="1.5" fill="#2b2b2b"/>
<line x1="64.6" y1="726.3" x2="146.0" y2="726.3" stroke="#e4e4e6" stroke-width="1.3" />
<line x1="146.0" y1="726.3" x2="146.0" y2="754.0" stroke="#e4e4e6" stroke-width="1.3" />
<polygon points="62.0,727.5 144.4,727.5 144.4,752.0 137.7,755.7 94.5,755.7 94.5,739.0" fill="#2a2a2a" />
<rect x="137.7" y="727.5" width="6.7" height="24.5" fill="#222222" />
<polygon points="34.6,739.1 57.1,730.8 109.4,730.8 109.4,755.7 94.5,765.7 34.6,765.7" fill="#252525" />
<rect x="91.2" y="737.0" width="3.3" height="28.7" fill="#1d1d1d" />
<rect x="34.6" y="739.1" width="56.6" height="26.6" rx="1.5" fill="#2b2b2b"/>
<polygon points="102.8,748.2 120.5,740.0 127.7,740.0 127.7,747.5 110.3,755.7 102.8,755.7" fill="#e2d02c" />
<polygon points="106.2,751.6 123.9,743.4 127.7,743.4 127.7,747.5 110.3,755.7 106.2,755.7" fill="#c2b022" />
<rect x="102.8" y="748.2" width="7.5" height="7.5" fill="#f3e23a" />
<rect x="504.7" y="336.3" width="56.1" height="28.2" fill="#333333" />
<line x1="506.0" y1="365.5" x2="561.9" y2="365.5" stroke="#e4e4e6" stroke-width="1.2" />
<polygon points="508.0,342.0 515.0,342.0 521.6,345.5 521.6,353.0 514.6,353.0 508.0,349.5" fill="#e2d02c" />
<polygon points="511.1,345.4 515.0,345.4 521.6,348.9 521.6,353.0 517.8,353.0 511.1,349.5" fill="#c2b022" />
<rect x="508.0" y="342.0" width="7.0" height="7.5" fill="#f3e23a" />
<polygon points="535.9,342.0 542.9,342.0 549.3,345.5 549.3,353.0 542.3,353.0 535.9,349.5" fill="#e2d02c" />
<polygon points="539.0,345.4 542.9,345.4 549.3,348.9 549.3,353.0 545.4,353.0 539.0,349.5" fill="#c2b022" />
<rect x="535.9" y="342.0" width="7.0" height="7.5" fill="#f3e23a" />
<rect x="504.7" y="376.9" width="56.1" height="27.6" fill="#333333" />
<line x1="506.0" y1="405.5" x2="561.9" y2="405.5" stroke="#e4e4e6" stroke-width="1.2" />
<polygon points="508.0,384.3 515.0,384.3 521.6,387.1 521.6,394.3 514.6,394.3 508.0,391.5" fill="#e2d02c" />
<polygon points="511.1,387.5 515.0,387.5 521.6,390.3 521.6,394.3 517.8,394.3 511.1,391.5" fill="#c2b022" />
<rect x="508.0" y="384.3" width="7.0" height="7.2" fill="#f3e23a" />
<polygon points="535.9,384.3 542.9,384.3 549.3,387.1 549.3,394.3 542.3,394.3 535.9,391.5" fill="#e2d02c" />
<polygon points="539.0,387.5 542.9,387.5 549.3,390.3 549.3,394.3 545.4,394.3 539.0,391.5" fill="#c2b022" />
<rect x="535.9" y="384.3" width="7.0" height="7.2" fill="#f3e23a" />
<rect x="504.7" y="417.1" width="56.1" height="27.3" fill="#333333" />
<line x1="506.0" y1="445.4" x2="561.9" y2="445.4" stroke="#e4e4e6" stroke-width="1.2" />
<polygon points="508.0,426.4 515.0,426.4 521.6,427.6 521.6,434.5 514.6,434.5 508.0,433.3" fill="#e2d02c" />
<polygon points="511.1,429.5 515.0,429.5 521.6,430.7 521.6,434.5 517.8,434.5 511.1,433.3" fill="#c2b022" />
<rect x="508.0" y="426.4" width="7.0" height="6.9" fill="#f3e23a" />
<polygon points="535.9,426.4 542.9,426.4 549.3,427.6 549.3,434.5 542.3,434.5 535.9,433.3" fill="#e2d02c" />
<polygon points="539.0,429.5 542.9,429.5 549.3,430.7 549.3,434.5 545.4,434.5 539.0,433.3" fill="#c2b022" />
<rect x="535.9" y="426.4" width="7.0" height="6.9" fill="#f3e23a" />
<line x1="210.7" y1="658.2" x2="427.3" y2="658.2" stroke="#e4e4e6" stroke-width="1.3" />
<line x1="427.3" y1="658.2" x2="427.3" y2="713.0" stroke="#e4e4e6" stroke-width="1.3" />
<polygon points="188.2,667.5 210.7,658.8 424.8,658.8 424.8,714.0 412.3,723.8 188.2,723.8" fill="#272727" />
<rect x="412.3" y="664.0" width="12.5" height="50.0" fill="#2b2b2b" />
<rect x="188.2" y="667.5" width="224.1" height="56.3" fill="#333333" />
<rect x="215.5" y="667.5" width="1.6" height="56.3" fill="#292929" />
<rect x="243.7" y="667.5" width="1.6" height="56.3" fill="#292929" />
<rect x="271.8" y="667.5" width="1.6" height="56.3" fill="#292929" />
<rect x="300.0" y="667.5" width="1.6" height="56.3" fill="#292929" />
<rect x="328.1" y="667.5" width="1.6" height="56.3" fill="#292929" />
<rect x="356.3" y="667.5" width="1.6" height="56.3" fill="#292929" />
<rect x="384.4" y="667.5" width="1.6" height="56.3" fill="#292929" />
<line x1="185.4" y1="793.0" x2="453.0" y2="793.0" stroke="#e4e4e6" stroke-width="1.3" />
<polygon points="179.3,797.2 185.4,793.6 453.0,793.6 453.0,825.0 179.3,825.0" fill="#262626" />
<rect x="179.3" y="797.2" width="273.7" height="27.8" fill="#2d2d2d" />
<polygon points="172.7,817.8 189.5,807.0 196.2,807.0 196.2,814.2 180.2,825.3 172.7,825.3" fill="#e2d02c" />
<polygon points="176.1,821.2 192.9,810.4 196.2,810.4 196.2,814.2 180.2,825.3 176.1,825.3" fill="#c2b022" />
<rect x="172.7" y="817.8" width="7.5" height="7.5" fill="#f3e23a" />
<polygon points="200.5,817.8 217.3,807.0 224.0,807.0 224.0,814.2 208.0,825.3 200.5,825.3" fill="#e2d02c" />
<polygon points="203.9,821.2 220.7,810.4 224.0,810.4 224.0,814.2 208.0,825.3 203.9,825.3" fill="#c2b022" />
<rect x="200.5" y="817.8" width="7.5" height="7.5" fill="#f3e23a" />
<polygon points="228.4,817.8 245.2,807.0 251.9,807.0 251.9,814.2 235.9,825.3 228.4,825.3" fill="#e2d02c" />
<polygon points="231.8,821.2 248.6,810.4 251.9,810.4 251.9,814.2 235.9,825.3 231.8,825.3" fill="#c2b022" />
<rect x="228.4" y="817.8" width="7.5" height="7.5" fill="#f3e23a" />
<polygon points="256.2,817.8 273.1,807.0 279.8,807.0 279.8,814.2 263.8,825.3 256.2,825.3" fill="#e2d02c" />
<polygon points="259.6,821.2 276.4,810.4 279.8,810.4 279.8,814.2 263.8,825.3 259.6,825.3" fill="#c2b022" />
<rect x="256.2" y="817.8" width="7.5" height="7.5" fill="#f3e23a" />
<polygon points="284.1,817.8 300.9,807.0 307.6,807.0 307.6,814.2 291.6,825.3 284.1,825.3" fill="#e2d02c" />
<polygon points="287.5,821.2 304.3,810.4 307.6,810.4 307.6,814.2 291.6,825.3 287.5,825.3" fill="#c2b022" />
<rect x="284.1" y="817.8" width="7.5" height="7.5" fill="#f3e23a" />
<polygon points="311.9,817.8 328.8,807.0 335.4,807.0 335.4,814.2 319.4,825.3 311.9,825.3" fill="#e2d02c" />
<polygon points="315.3,821.2 332.1,810.4 335.4,810.4 335.4,814.2 319.4,825.3 315.3,825.3" fill="#c2b022" />
<rect x="311.9" y="817.8" width="7.5" height="7.5" fill="#f3e23a" />
<polygon points="339.8,817.8 356.6,807.0 363.3,807.0 363.3,814.2 347.3,825.3 339.8,825.3" fill="#e2d02c" />
<polygon points="343.2,821.2 360.0,810.4 363.3,810.4 363.3,814.2 347.3,825.3 343.2,825.3" fill="#c2b022" />
<rect x="339.8" y="817.8" width="7.5" height="7.5" fill="#f3e23a" />
<polygon points="367.6,817.8 384.4,807.0 391.1,807.0 391.1,814.2 375.1,825.3 367.6,825.3" fill="#e2d02c" />
<polygon points="371.0,821.2 387.8,810.4 391.1,810.4 391.1,814.2 375.1,825.3 371.0,825.3" fill="#c2b022" />
<rect x="367.6" y="817.8" width="7.5" height="7.5" fill="#f3e23a" />
<polygon points="395.5,817.8 412.3,807.0 419.0,807.0 419.0,814.2 403.0,825.3 395.5,825.3" fill="#e2d02c" />
<polygon points="398.9,821.2 415.7,810.4 419.0,810.4 419.0,814.2 403.0,825.3 398.9,825.3" fill="#c2b022" />
<rect x="395.5" y="817.8" width="7.5" height="7.5" fill="#f3e23a" />
<polygon points="423.4,817.8 440.2,807.0 446.9,807.0 446.9,814.2 430.9,825.3 423.4,825.3" fill="#e2d02c" />
<polygon points="426.7,821.2 443.5,810.4 446.9,810.4 446.9,814.2 430.9,825.3 426.7,825.3" fill="#c2b022" />
<rect x="423.4" y="817.8" width="7.5" height="7.5" fill="#f3e23a" />
<polygon points="0.0,888.0 1.6,888.0 4.2,897.7 0.0,897.7" fill="#1fe01f" />
<ellipse cx="30" cy="923.5" rx="3" ry="2" fill="#c81e1e"/>
</svg>
</body></html>
